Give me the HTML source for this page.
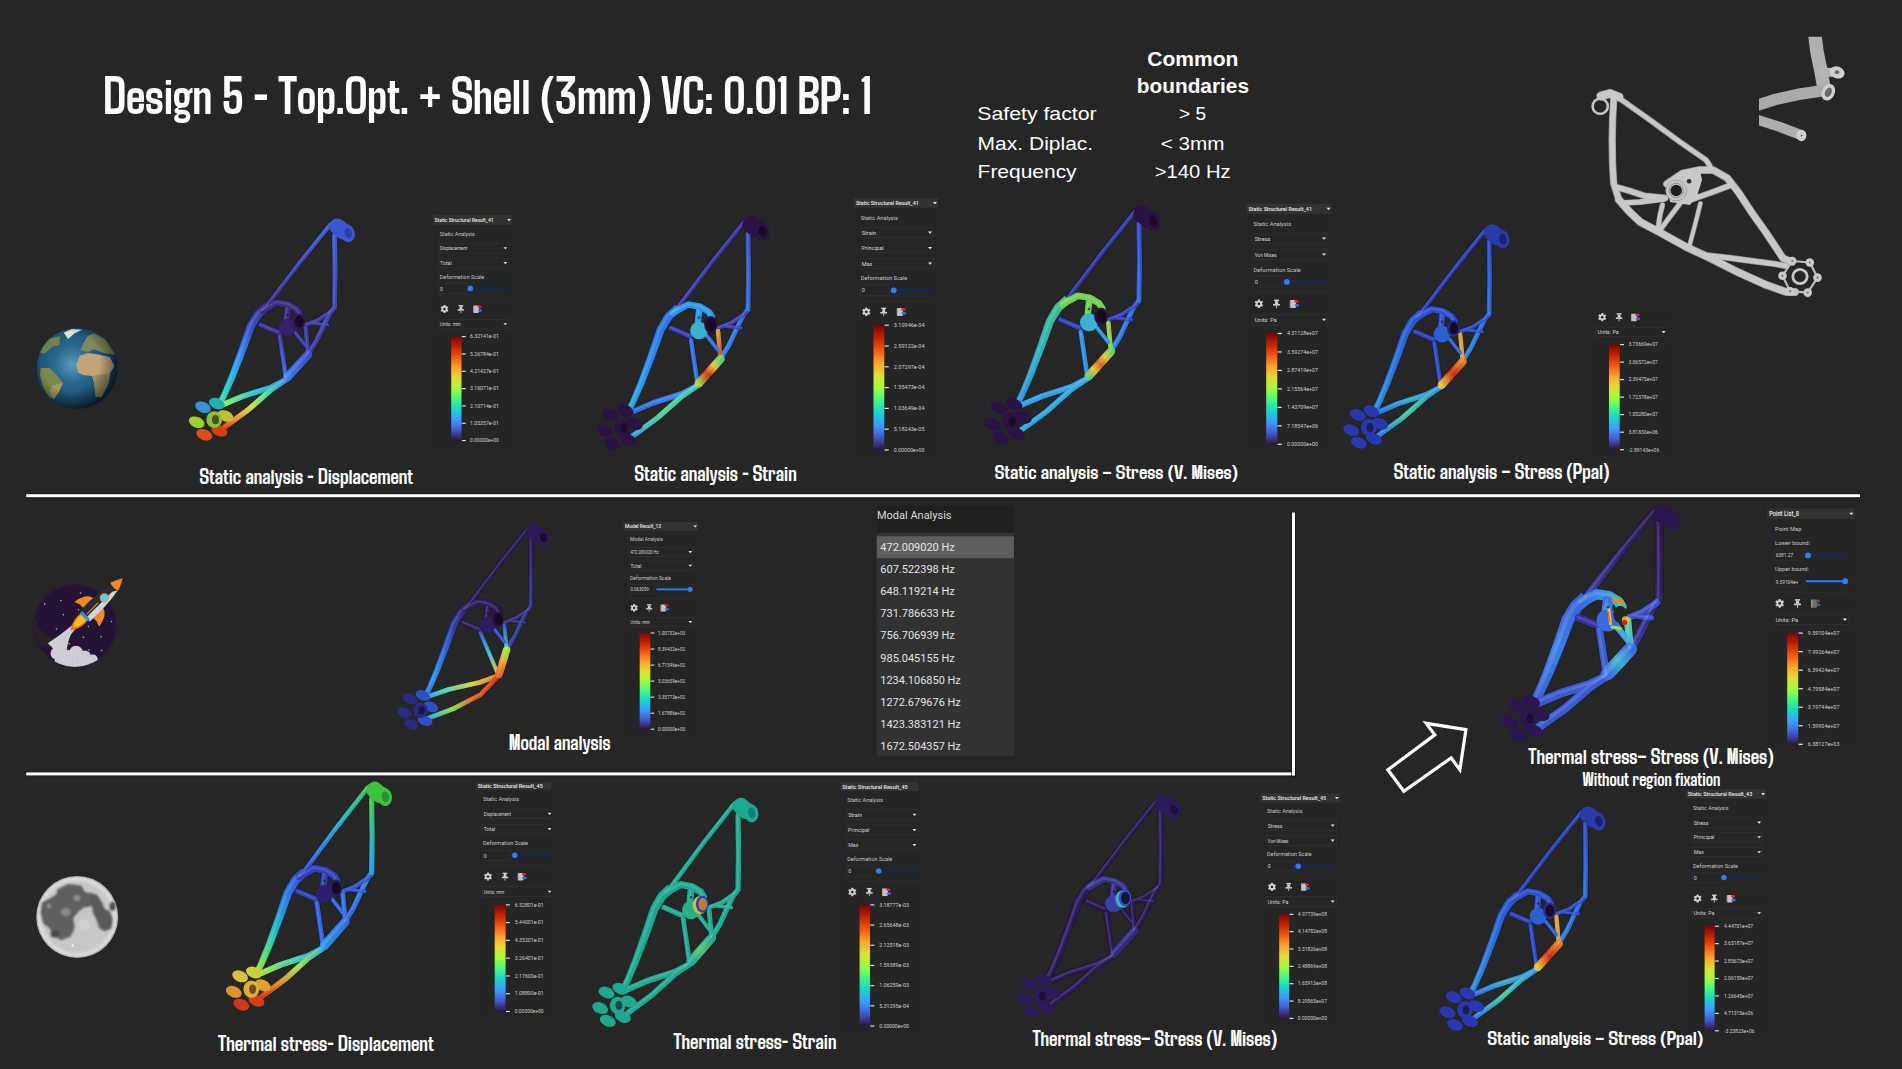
<!DOCTYPE html>
<html><head><meta charset="utf-8"><title>Design 5 - Top.Opt. + Shell</title>
<style>html,body{margin:0;padding:0;background:#262626;overflow:hidden}svg{display:block}</style></head>
<body><svg width="1902" height="1069" viewBox="0 0 1902 1069">
<defs><radialGradient id="ocean" cx="0.44" cy="0.45" r="0.62"><stop offset="0" stop-color="#5a9ab8"/><stop offset="0.35" stop-color="#2a6a90"/><stop offset="0.8" stop-color="#184a6c"/><stop offset="1" stop-color="#0c2436"/></radialGradient>
<radialGradient id="eshade" cx="0.42" cy="0.42" r="0.6"><stop offset="0.6" stop-color="#000" stop-opacity="0"/><stop offset="1" stop-color="#000" stop-opacity="0.55"/></radialGradient>
<clipPath id="eclip"><circle cx="77.1" cy="368.5" r="40.5"/></clipPath>
<filter id="eblur" x="-10%" y="-10%" width="120%" height="120%"><feGaussianBlur stdDeviation="0.55"/></filter>
<clipPath id="rclip"><circle cx="74.9" cy="625.8" r="41.2"/></clipPath>
<radialGradient id="moong" cx="0.5" cy="0.5" r="0.5"><stop offset="0" stop-color="#c6c6c6"/><stop offset="0.82" stop-color="#c8c8c8"/><stop offset="0.94" stop-color="#dcdcdc"/><stop offset="1" stop-color="#a8a8a8"/></radialGradient>
<clipPath id="mclip"><circle cx="77.2" cy="916.9" r="41"/></clipPath>
<filter id="mblur" x="-10%" y="-10%" width="120%" height="120%"><feGaussianBlur stdDeviation="1.1"/></filter>
<linearGradient id="gm" x1="0" y1="0" x2="1" y2="1"><stop offset="0" stop-color="#d2d2d2"/><stop offset="1" stop-color="#b4b4b4"/></linearGradient>
<clipPath id="gclip"><rect x="1759" y="36.7" width="100" height="120"/></clipPath>
<linearGradient id="g1" gradientUnits="userSpaceOnUse" x1="744" y1="222" x2="678" y2="307"><stop offset="0" stop-color="#3a5ad2"/><stop offset="1" stop-color="#3b2f8c"/></linearGradient>
<linearGradient id="g2" gradientUnits="userSpaceOnUse" x1="748" y1="234" x2="721" y2="358"><stop offset="0" stop-color="#3a5ad2"/><stop offset="0.5" stop-color="#3c48b8"/><stop offset="1" stop-color="#3b3a9c"/></linearGradient>
<linearGradient id="g3" gradientUnits="userSpaceOnUse" x1="678" y1="308" x2="627" y2="414"><stop offset="0" stop-color="#3b3090"/><stop offset="0.3" stop-color="#3a5ad8"/><stop offset="0.6" stop-color="#2a9ef0"/><stop offset="0.85" stop-color="#22d0c0"/><stop offset="1" stop-color="#50e890"/></linearGradient>
<linearGradient id="g4" gradientUnits="userSpaceOnUse" x1="691" y1="340" x2="697.4" y2="383.3"><stop offset="0" stop-color="#3b3a9c"/><stop offset="1" stop-color="#3a60d8"/></linearGradient>
<linearGradient id="g5" gradientUnits="userSpaceOnUse" x1="698.7" y1="385" x2="633" y2="411.5"><stop offset="0" stop-color="#3a7ae8"/><stop offset="0.5" stop-color="#22c0d8"/><stop offset="1" stop-color="#80f060"/></linearGradient>
<linearGradient id="g6" gradientUnits="userSpaceOnUse" x1="697" y1="386" x2="632" y2="436.5"><stop offset="0" stop-color="#3a8ae8"/><stop offset="0.3" stop-color="#40e0a0"/><stop offset="0.55" stop-color="#c8e040"/><stop offset="0.8" stop-color="#f08a28"/><stop offset="1" stop-color="#d83a10"/></linearGradient>
<linearGradient id="g7" gradientUnits="userSpaceOnUse" x1="720.5" y1="359" x2="698.7" y2="383.3"><stop offset="0" stop-color="#3a50c8"/><stop offset="1" stop-color="#3a7ae8"/></linearGradient>
<linearGradient id="g8" gradientUnits="userSpaceOnUse" x1="744" y1="222" x2="678" y2="307"><stop offset="0" stop-color="#3535a0"/><stop offset="1" stop-color="#3a3aa8"/></linearGradient>
<linearGradient id="g9" gradientUnits="userSpaceOnUse" x1="748" y1="234" x2="721" y2="358"><stop offset="0" stop-color="#3550c8"/><stop offset="1" stop-color="#2a80e8"/></linearGradient>
<linearGradient id="g10" gradientUnits="userSpaceOnUse" x1="678" y1="308" x2="627" y2="414"><stop offset="0" stop-color="#2f6ee0"/><stop offset="0.5" stop-color="#2a88e8"/><stop offset="1" stop-color="#30a8e0"/></linearGradient>
<linearGradient id="g11" gradientUnits="userSpaceOnUse" x1="718" y1="331" x2="720.5" y2="359"><stop offset="0" stop-color="#e0a030"/><stop offset="1" stop-color="#d04018"/></linearGradient>
<linearGradient id="g12" gradientUnits="userSpaceOnUse" x1="698.7" y1="385" x2="633" y2="411.5"><stop offset="0" stop-color="#3a8ae8"/><stop offset="1" stop-color="#2a70e0"/></linearGradient>
<linearGradient id="g13" gradientUnits="userSpaceOnUse" x1="697" y1="386" x2="632" y2="436.5"><stop offset="0" stop-color="#40c0c0"/><stop offset="0.5" stop-color="#50d090"/><stop offset="1" stop-color="#30a0e0"/></linearGradient>
<linearGradient id="g14" gradientUnits="userSpaceOnUse" x1="720.5" y1="359" x2="698.7" y2="383.3"><stop offset="0" stop-color="#50d080"/><stop offset="0.3" stop-color="#e0c030"/><stop offset="0.6" stop-color="#d03010"/><stop offset="1" stop-color="#a0d040"/></linearGradient>
<linearGradient id="g15" gradientUnits="userSpaceOnUse" x1="748" y1="234" x2="721" y2="358"><stop offset="0" stop-color="#3448c0"/><stop offset="1" stop-color="#2a80e8"/></linearGradient>
<linearGradient id="g16" gradientUnits="userSpaceOnUse" x1="678" y1="308" x2="627" y2="414"><stop offset="0" stop-color="#40c080"/><stop offset="0.5" stop-color="#30b0c0"/><stop offset="1" stop-color="#2a90e0"/></linearGradient>
<linearGradient id="g17" gradientUnits="userSpaceOnUse" x1="720.5" y1="359" x2="698.7" y2="383.3"><stop offset="0" stop-color="#60d060"/><stop offset="0.25" stop-color="#e0c030"/><stop offset="0.5" stop-color="#d86020"/><stop offset="0.75" stop-color="#e0c030"/><stop offset="1" stop-color="#60c080"/></linearGradient>
<linearGradient id="g18" gradientUnits="userSpaceOnUse" x1="748" y1="234" x2="721" y2="358"><stop offset="0" stop-color="#2a48c8"/><stop offset="1" stop-color="#2a80e0"/></linearGradient>
<linearGradient id="g19" gradientUnits="userSpaceOnUse" x1="678" y1="308" x2="627" y2="414"><stop offset="0" stop-color="#2a50d0"/><stop offset="1" stop-color="#2a90e0"/></linearGradient>
<linearGradient id="g20" gradientUnits="userSpaceOnUse" x1="698.7" y1="385" x2="633" y2="411.5"><stop offset="0" stop-color="#2a80e0"/><stop offset="0.5" stop-color="#30a8d0"/><stop offset="1" stop-color="#2a70e0"/></linearGradient>
<linearGradient id="g21" gradientUnits="userSpaceOnUse" x1="697" y1="386" x2="632" y2="436.5"><stop offset="0" stop-color="#2a90e0"/><stop offset="0.5" stop-color="#40c8a0"/><stop offset="1" stop-color="#2a78e0"/></linearGradient>
<linearGradient id="g22" gradientUnits="userSpaceOnUse" x1="720.5" y1="359" x2="698.7" y2="383.3"><stop offset="0" stop-color="#e08020"/><stop offset="0.5" stop-color="#d02810"/><stop offset="1" stop-color="#e0c030"/></linearGradient>
<linearGradient id="g23" gradientUnits="userSpaceOnUse" x1="744" y1="222" x2="678" y2="307"><stop offset="0" stop-color="#2c1a58"/><stop offset="1" stop-color="#30206a"/></linearGradient>
<linearGradient id="g24" gradientUnits="userSpaceOnUse" x1="748" y1="234" x2="721" y2="358"><stop offset="0" stop-color="#2c1a58"/><stop offset="1" stop-color="#3040a0"/></linearGradient>
<linearGradient id="g25" gradientUnits="userSpaceOnUse" x1="678" y1="308" x2="627" y2="414"><stop offset="0" stop-color="#30206a"/><stop offset="0.4" stop-color="#3050c8"/><stop offset="0.8" stop-color="#2a90e8"/><stop offset="1" stop-color="#3070e0"/></linearGradient>
<linearGradient id="g26" gradientUnits="userSpaceOnUse" x1="691" y1="340" x2="711" y2="387"><stop offset="0" stop-color="#3050c8"/><stop offset="0.5" stop-color="#30c0d0"/><stop offset="1" stop-color="#f0c030"/></linearGradient>
<linearGradient id="g27" gradientUnits="userSpaceOnUse" x1="718" y1="331" x2="720.5" y2="359"><stop offset="0" stop-color="#3050c8"/><stop offset="1" stop-color="#40c0c0"/></linearGradient>
<linearGradient id="g28" gradientUnits="userSpaceOnUse" x1="712" y1="388" x2="633" y2="411.5"><stop offset="0" stop-color="#e07020"/><stop offset="0.4" stop-color="#d0d040"/><stop offset="0.8" stop-color="#40d0b0"/><stop offset="1" stop-color="#30a0e0"/></linearGradient>
<linearGradient id="g29" gradientUnits="userSpaceOnUse" x1="710" y1="390" x2="632" y2="436.5"><stop offset="0" stop-color="#d03010"/><stop offset="0.4" stop-color="#e06020"/><stop offset="0.7" stop-color="#80e050"/><stop offset="1" stop-color="#30a0e0"/></linearGradient>
<linearGradient id="g30" gradientUnits="userSpaceOnUse" x1="720.5" y1="359" x2="712" y2="387"><stop offset="0" stop-color="#a0e040"/><stop offset="0.5" stop-color="#f0a030"/><stop offset="1" stop-color="#e06020"/></linearGradient>
<linearGradient id="g31" gradientUnits="userSpaceOnUse" x1="744" y1="222" x2="678" y2="307"><stop offset="0" stop-color="#2c1650"/><stop offset="0.5" stop-color="#30246e"/><stop offset="1" stop-color="#3a3aa8"/></linearGradient>
<linearGradient id="g32" gradientUnits="userSpaceOnUse" x1="748" y1="234" x2="721" y2="358"><stop offset="0" stop-color="#2c1650"/><stop offset="0.5" stop-color="#2e1e60"/><stop offset="1" stop-color="#3a3aa8"/></linearGradient>
<linearGradient id="g33" gradientUnits="userSpaceOnUse" x1="678" y1="308" x2="627" y2="414"><stop offset="0" stop-color="#3a60d8"/><stop offset="0.5" stop-color="#3a80e8"/><stop offset="1" stop-color="#3a5ad0"/></linearGradient>
<linearGradient id="g34" gradientUnits="userSpaceOnUse" x1="718" y1="331" x2="720.5" y2="359"><stop offset="0" stop-color="#60d0a0"/><stop offset="1" stop-color="#30c0d0"/></linearGradient>
<linearGradient id="g35" gradientUnits="userSpaceOnUse" x1="720.5" y1="359" x2="698.7" y2="383.3"><stop offset="0" stop-color="#3a70e0"/><stop offset="0.5" stop-color="#40b0d0"/><stop offset="1" stop-color="#3a70e0"/></linearGradient>
<linearGradient id="g36" gradientUnits="userSpaceOnUse" x1="673" y1="313" x2="712" y2="317"><stop offset="0" stop-color="#3a6ae0"/><stop offset="0.5" stop-color="#3a8ef0"/><stop offset="1" stop-color="#40c0a0"/></linearGradient>
<linearGradient id="g37" gradientUnits="userSpaceOnUse" x1="699" y1="311" x2="697" y2="331"><stop offset="0" stop-color="#3a6ae0"/><stop offset="0.5" stop-color="#3a8ef0"/><stop offset="1" stop-color="#40c0a0"/></linearGradient>
<linearGradient id="g38" gradientUnits="userSpaceOnUse" x1="744" y1="222" x2="678" y2="307"><stop offset="0" stop-color="#40c050"/><stop offset="0.4" stop-color="#20b0c8"/><stop offset="0.8" stop-color="#2a70e0"/><stop offset="1" stop-color="#3050d0"/></linearGradient>
<linearGradient id="g39" gradientUnits="userSpaceOnUse" x1="748" y1="234" x2="721" y2="358"><stop offset="0" stop-color="#40c050"/><stop offset="0.5" stop-color="#20a0e0"/><stop offset="1" stop-color="#3060e0"/></linearGradient>
<linearGradient id="g40" gradientUnits="userSpaceOnUse" x1="678" y1="308" x2="627" y2="414"><stop offset="0" stop-color="#3050d0"/><stop offset="0.3" stop-color="#2a80e8"/><stop offset="0.6" stop-color="#20c0c0"/><stop offset="0.85" stop-color="#60e060"/><stop offset="1" stop-color="#c0d040"/></linearGradient>
<linearGradient id="g41" gradientUnits="userSpaceOnUse" x1="698.7" y1="385" x2="633" y2="411.5"><stop offset="0" stop-color="#2a90e0"/><stop offset="0.5" stop-color="#40d0b0"/><stop offset="1" stop-color="#a0e040"/></linearGradient>
<linearGradient id="g42" gradientUnits="userSpaceOnUse" x1="697" y1="386" x2="632" y2="436.5"><stop offset="0" stop-color="#2ab0d0"/><stop offset="0.4" stop-color="#a0e040"/><stop offset="0.7" stop-color="#e08020"/><stop offset="1" stop-color="#c83010"/></linearGradient>
<linearGradient id="g43" gradientUnits="userSpaceOnUse" x1="720.5" y1="359" x2="698.7" y2="383.3"><stop offset="0" stop-color="#3070e0"/><stop offset="1" stop-color="#2a90e0"/></linearGradient>
<linearGradient id="g44" gradientUnits="userSpaceOnUse" x1="720.5" y1="359" x2="698.7" y2="383.3"><stop offset="0" stop-color="#1fa890"/><stop offset="0.5" stop-color="#50c070"/><stop offset="1" stop-color="#1fa890"/></linearGradient>
<linearGradient id="g45" gradientUnits="userSpaceOnUse" x1="748" y1="234" x2="721" y2="358"><stop offset="0" stop-color="#2a48c8"/><stop offset="1" stop-color="#2a80e0"/></linearGradient>
<linearGradient id="g46" gradientUnits="userSpaceOnUse" x1="678" y1="308" x2="627" y2="414"><stop offset="0" stop-color="#2a50d0"/><stop offset="1" stop-color="#2a90e0"/></linearGradient>
<linearGradient id="g47" gradientUnits="userSpaceOnUse" x1="698.7" y1="385" x2="633" y2="411.5"><stop offset="0" stop-color="#2a80e0"/><stop offset="0.5" stop-color="#30a8d0"/><stop offset="1" stop-color="#2a70e0"/></linearGradient>
<linearGradient id="g48" gradientUnits="userSpaceOnUse" x1="697" y1="386" x2="632" y2="436.5"><stop offset="0" stop-color="#2a90e0"/><stop offset="0.5" stop-color="#40c8a0"/><stop offset="1" stop-color="#2a78e0"/></linearGradient>
<linearGradient id="g49" gradientUnits="userSpaceOnUse" x1="720.5" y1="359" x2="698.7" y2="383.3"><stop offset="0" stop-color="#e08020"/><stop offset="0.5" stop-color="#d02810"/><stop offset="1" stop-color="#e0c030"/></linearGradient></defs>
<rect width="1902" height="1069" fill="#262626"/>
<text x="103.5" y="114" font-family="'Agdasima','Liberation Sans Narrow','Liberation Sans',sans-serif" font-weight="700" font-size="52.86" fill="#fff" textLength="768" lengthAdjust="spacingAndGlyphs">Design 5 - Top.Opt. + Shell (3mm) VC: 0.01 BP: 1</text>
<text x="1147.3" y="65.8" font-family="'Liberation Sans','DejaVu Sans',sans-serif" font-size="19.5" font-weight="700" fill="#fff" textLength="91.1" lengthAdjust="spacingAndGlyphs">Common</text>
<text x="1136.8" y="92.8" font-family="'Liberation Sans','DejaVu Sans',sans-serif" font-size="19.5" font-weight="700" fill="#fff" textLength="112.2" lengthAdjust="spacingAndGlyphs">boundaries</text>
<text x="977.2" y="120.4" font-family="'Liberation Sans','DejaVu Sans',sans-serif" font-size="19" font-weight="400" fill="#fff" textLength="119.5" lengthAdjust="spacingAndGlyphs">Safety factor</text>
<text x="977.6" y="149.9" font-family="'Liberation Sans','DejaVu Sans',sans-serif" font-size="19" font-weight="400" fill="#fff" textLength="115.6" lengthAdjust="spacingAndGlyphs">Max. Diplac.</text>
<text x="977.6" y="178.4" font-family="'Liberation Sans','DejaVu Sans',sans-serif" font-size="19" font-weight="400" fill="#fff" textLength="99" lengthAdjust="spacingAndGlyphs">Frequency</text>
<text x="1179.1" y="120.4" font-family="'Liberation Sans','DejaVu Sans',sans-serif" font-size="19" font-weight="400" fill="#fff" textLength="27.1" lengthAdjust="spacingAndGlyphs">&gt; 5</text>
<text x="1160.7" y="149.9" font-family="'Liberation Sans','DejaVu Sans',sans-serif" font-size="19" font-weight="400" fill="#fff" textLength="63.9" lengthAdjust="spacingAndGlyphs">&lt; 3mm</text>
<text x="1154.8" y="178.4" font-family="'Liberation Sans','DejaVu Sans',sans-serif" font-size="19" font-weight="400" fill="#fff" textLength="75.8" lengthAdjust="spacingAndGlyphs">&gt;140 Hz</text>
<rect x="25.2" y="493.2" width="1835.8" height="5" fill="#141414" opacity="0.6"/><rect x="26.2" y="494.2" width="1833.8" height="3" fill="#ffffff"/>
<rect x="25.2" y="771.4" width="1270.8" height="5" fill="#141414" opacity="0.6"/><rect x="26.2" y="772.4" width="1268.8" height="3" fill="#ffffff"/>
<rect x="1291" y="511.5" width="5" height="266" fill="#141414" opacity="0.6"/><rect x="1292" y="512.5" width="3" height="263" fill="#fff"/>
<circle cx="77.1" cy="368.5" r="40.8" fill="#141414" opacity="0.5"/><circle cx="77.1" cy="368.5" r="40.5" fill="url(#ocean)"/><g clip-path="url(#eclip)"><g filter="url(#eblur)"><path d="M76.22 364.44 L79.78 355.56 L87.78 352.89 L99.33 354.67 L110 357.33 L114.44 366.22 L110 373.33 L108.22 384 L101.11 397.33 L95.78 396.44 L94 382.22 L92.22 376 L83.33 375.11 L78 372.44Z" fill="#c2a47a"/><path d="M92.22 376 L108.22 373.33 L108.22 384 L101.11 397.33 L95.78 396.44 L94 382.22Z" fill="#9a9060"/><path d="M80.67 350.22 L83.33 343.11 L87.78 336 L94 333.33 L105.56 339.56 L115.33 354.67 L103.78 352.89 L94 349.33 L87.78 352Z" fill="#7e8a58"/><path d="M40.67 368 L49.56 368 L56.67 375.11 L62.89 383.11 L59.33 391.11 L54 399.11 L49.56 397.33 L43.33 387.56 L39.78 375.11Z" fill="#7a8a4c"/><path d="M52.22 385.78 L62.89 383.11 L59.33 391.11 L54 399.11 L49.56 391.11Z" fill="#a89868"/><path d="M38.89 352 L46 339.56 L60.22 336 L59.33 344.89 L52.22 346.67 L44.22 353.78Z" fill="#6e8248"/><path d="M63.78 332.44 L71.78 328.89 L82.44 329.78 L74.44 333.33 L68.22 339.11 L66 336Z" fill="#e2e2e2"/></g><circle cx="77.1" cy="368.5" r="40.5" fill="url(#eshade)"/></g>
<circle cx="74.9" cy="625.8" r="41.8" fill="#231336"/><circle cx="74.9" cy="625.8" r="41.2" fill="#241334"/><g clip-path="url(#rclip)"><path d="M40.72 602.42 C30.89 611.26 35.81 632.87 52.5 637.78 S30.89 658.41 30.89 628.94 Z" fill="#262428"/></g><circle cx="74.9" cy="625.8" r="41.2" fill="none" stroke="#2e1a44" stroke-width="0.8"/><circle cx="44.65" cy="603.89" r="0.8" fill="#b8b0c8"/><circle cx="60.85" cy="600.45" r="0.8" fill="#b8b0c8"/><circle cx="80.5" cy="593.08" r="0.8" fill="#b8b0c8"/><circle cx="63.31" cy="614.7" r="0.8" fill="#b8b0c8"/><circle cx="56.43" cy="628.94" r="0.8" fill="#b8b0c8"/><circle cx="78.54" cy="609.78" r="0.8" fill="#b8b0c8"/><circle cx="88.36" cy="626.48" r="0.8" fill="#b8b0c8"/><circle cx="111.44" cy="621.57" r="0.8" fill="#b8b0c8"/><circle cx="101.13" cy="636.8" r="0.8" fill="#b8b0c8"/><circle cx="83.45" cy="637.29" r="0.8" fill="#b8b0c8"/><circle cx="88.85" cy="650.06" r="0.8" fill="#b8b0c8"/><circle cx="101.62" cy="650.55" r="0.8" fill="#b8b0c8"/><circle cx="69.2" cy="643.67" r="0.8" fill="#b8b0c8"/><path d="M72.15 631.89 Q62.33 638.76 54.47 653.5 L66.26 654.48 Q67.24 640.73 72.15 631.89 Z" fill="#cfccd4"/><g clip-path="url(#rclip)" fill="#cfccd4"><circle cx="56.43" cy="653.5" r="5.89"/><circle cx="66.26" cy="656.44" r="6.88"/><circle cx="76.08" cy="652.51" r="6.88"/><circle cx="84.92" cy="656.44" r="5.89"/><circle cx="92.78" cy="659.39" r="4.91"/><circle cx="70.19" cy="662.34" r="7.86"/><circle cx="60.36" cy="661.36" r="5.89"/><circle cx="82.96" cy="663.32" r="6.88"/></g><g transform="translate(82.5 618.5) rotate(45)"><path d="M-2.5 12 Q-4 28 -7 42 L8 42 Q3 28 2.5 12 Z" fill="#cfccd4"/><path d="M-4.8 -3 Q-7 8 0 17 Q7 8 4.8 -3 Z" fill="#f06a18"/><path d="M-3.6 -3 Q-5 6 0 13 Q5 6 3.6 -3 Z" fill="#f8c020"/><path d="M-6.5 -22 Q-15 -21 -17.5 -6 L-12 -8 L-6.5 -8 Z" fill="#f08a20"/><path d="M6.5 -22 Q15 -21 17.5 -6 L12 -8 L6.5 -8 Z" fill="#f08a20"/><path d="M-7.2 -3 Q-9 -32 0 -57 Q9 -32 7.2 -3 Z" fill="#2b2a30"/><path d="M2 -3 L7.2 -3 Q8.6 -26 5 -45 L2 -40 Z" fill="#d4d2da"/><path d="M-5.6 -45 Q-3 -52 0 -57 Q3 -52 5.6 -45 Q0 -42.5 -5.6 -45 Z" fill="#f08a20"/><circle cx="1" cy="-30" r="4.2" fill="#5ad0e8" stroke="#e8a030" stroke-width="1"/><rect x="-5.6" y="-5" width="11.2" height="3.4" fill="#3a8ae0"/><rect x="-0.5" y="-22" width="1" height="16" fill="#e8a030"/></g>
<circle cx="77.2" cy="916.9" r="41" fill="url(#moong)"/><g clip-path="url(#mclip)"><g filter="url(#mblur)"><path d="M57.6 889.3 L68.1 884 L81.2 885.4 L85.1 891.9 L91.7 893.2 L96.9 899.8 L91.7 906.3 L83.8 907.6 L78.6 911.5 L73.3 918.1 L74.6 928.6 L70.7 936.4 L61.5 940.3 L52.4 935.1 L49.8 928.6 L43.2 923.3 L40.6 912.8 L41.9 902.4 L49.8 898.4 L56.3 894.5Z" fill="#5e5e5e"/><path d="M90.3 893.2 L96.9 894.5 L102.1 902.4 L104.7 908.9 L110 911.5 L112.6 919.4 L111.3 928.6 L104.7 931.2 L99.5 928.6 L96.9 920.7 L93 912.8 L91.7 905Z" fill="#5a5a5a"/><ellipse cx="112.6" cy="906.3" rx="3" ry="4.5" fill="#505050"/><ellipse cx="55" cy="934" rx="4.5" ry="3.5" fill="#4a4a4a"/><ellipse cx="66" cy="912" rx="5" ry="4" fill="#8a8a8a"/><ellipse cx="77" cy="898" rx="3.5" ry="3" fill="#8e8e8e"/><ellipse cx="49" cy="906" rx="2" ry="2" fill="#9a9a9a"/></g><circle cx="72.7" cy="945.6" r="1.3" fill="#f0f0f0"/><circle cx="84" cy="925" r="6" fill="#e0e0e0" opacity="0.35"/></g>
<path d="M1387.9 769.8 L1403.8 791.3 L1451.1 757.9 L1459.9 769.8 L1465.9 729.7 L1426.1 723.3 L1434.8 734.9Z" fill="none" stroke="#ffffff" stroke-width="3.2" stroke-linejoin="miter"/>
<g fill="none" stroke-linecap="round" stroke-linejoin="round"><g stroke-linecap="round" stroke-linejoin="round" fill="none"><path d="M1601 96 L1610 93.5 L1618.9 97" stroke="#8e8e8e" stroke-width="9.4"/><path d="M1613.7 99.5 L1612.6 120 L1612.2 140 L1612.6 165 L1613.7 183.3 L1618.9 199.8 L1629.4 211.7" stroke="#8e8e8e" stroke-width="7.4"/><path d="M1618.9 199.8 L1629.4 211.7 L1640 221.8 L1661 233 L1686.3 247 L1707.4 256.8 L1738.2 272.3 L1766.3 284.9 L1786 291.9 L1795 292" stroke="#8e8e8e" stroke-width="8.2"/><path d="M1618.9 98 L1650 120 L1680 142 L1706 160 L1710 166" stroke="#8e8e8e" stroke-width="5.9"/><path d="M1667 184 L1682.1 173.6 L1699 170 L1713 170 L1727 177.8 L1738.2 191.9 L1752.3 213.3 L1766.3 233 L1777.5 249.8 L1783 258.2 L1792 262" stroke="#8e8e8e" stroke-width="7.8"/><path d="M1688 200.7 L1710 193 L1732 184.7" stroke="#8e8e8e" stroke-width="6.4"/><path d="M1616 187 L1630 191 L1645 196 L1665.3 197.9" stroke="#8e8e8e" stroke-width="6.8"/><path d="M1622 203 L1640 202 L1664 199" stroke="#8e8e8e" stroke-width="6.2"/><path d="M1662.5 204.9 L1660 215 L1658.2 227.4" stroke="#8e8e8e" stroke-width="5.6"/><path d="M1682.1 200.7 L1672 214 L1661 228.8" stroke="#8e8e8e" stroke-width="5.6"/><path d="M1700.4 203.5 L1695 225 L1689.1 247" stroke="#8e8e8e" stroke-width="5"/><path d="M1707.4 255.4 L1730 258 L1752.3 261 L1774.7 263.9 L1786 266" stroke="#8e8e8e" stroke-width="6.4"/></g><path d="M1601 96 L1610 93.5 L1618.9 97" stroke="#c8c8c8" stroke-width="8"/><path d="M1613.7 99.5 L1612.6 120 L1612.2 140 L1612.6 165 L1613.7 183.3 L1618.9 199.8 L1629.4 211.7" stroke="#c8c8c8" stroke-width="6"/><path d="M1618.9 199.8 L1629.4 211.7 L1640 221.8 L1661 233 L1686.3 247 L1707.4 256.8 L1738.2 272.3 L1766.3 284.9 L1786 291.9 L1795 292" stroke="#c8c8c8" stroke-width="6.8"/><path d="M1618.9 98 L1650 120 L1680 142 L1706 160 L1710 166" stroke="#c8c8c8" stroke-width="4.5"/><path d="M1667 184 L1682.1 173.6 L1699 170 L1713 170 L1727 177.8 L1738.2 191.9 L1752.3 213.3 L1766.3 233 L1777.5 249.8 L1783 258.2 L1792 262" stroke="#c8c8c8" stroke-width="6.4"/><path d="M1688 200.7 L1710 193 L1732 184.7" stroke="#c8c8c8" stroke-width="5"/><path d="M1616 187 L1630 191 L1645 196 L1665.3 197.9" stroke="#c8c8c8" stroke-width="5.4"/><path d="M1622 203 L1640 202 L1664 199" stroke="#c8c8c8" stroke-width="4.8"/><path d="M1662.5 204.9 L1660 215 L1658.2 227.4" stroke="#c8c8c8" stroke-width="4.2"/><path d="M1682.1 200.7 L1672 214 L1661 228.8" stroke="#c8c8c8" stroke-width="4.2"/><path d="M1700.4 203.5 L1695 225 L1689.1 247" stroke="#c8c8c8" stroke-width="3.6"/><path d="M1707.4 255.4 L1730 258 L1752.3 261 L1774.7 263.9 L1786 266" stroke="#c8c8c8" stroke-width="5"/><path d="M1668 186 L1684 172 L1700 170 L1702 180 L1697 196 L1690 205 L1670 202Z" fill="#c8c8c8" stroke="none"/><circle cx="1689.1" cy="181.3" r="2.3" fill="#262626" stroke="none"/><circle cx="1676.2" cy="190.5" r="10.4" fill="#c8c8c8" stroke="#9a9a9a" stroke-width="0.8"/><circle cx="1676.2" cy="190.5" r="7.2" fill="none" stroke="#8a8a8a" stroke-width="1"/><circle cx="1676.2" cy="190.5" r="5.7" fill="#1e1e1e" stroke="none"/><circle cx="1600.2" cy="106.2" r="7.6" fill="none" stroke="#c6c6c6" stroke-width="2.6"/><circle cx="1800" cy="276.5" r="7.2" fill="none" stroke="#c8c8c8" stroke-width="2.8"/><path d="M1792.3 261 L1809.8 262.5" stroke="#bcbcbc" stroke-width="2.2"/><path d="M1809.8 262.5 L1817.5 277.6" stroke="#bcbcbc" stroke-width="2.2"/><path d="M1817.5 277.6 L1807.7 292.6" stroke="#bcbcbc" stroke-width="2.2"/><path d="M1807.7 292.6 L1790.2 291.2" stroke="#bcbcbc" stroke-width="2.2"/><path d="M1790.2 291.2 L1782.5 275.8" stroke="#bcbcbc" stroke-width="2.2"/><path d="M1782.5 275.8 L1792.3 261" stroke="#bcbcbc" stroke-width="2.2"/><circle cx="1792.3" cy="261" r="4.3" fill="#cacaca" stroke="none"/><circle cx="1792.3" cy="261" r="1.1" fill="#707070" stroke="none"/><circle cx="1809.8" cy="262.5" r="4.3" fill="#cacaca" stroke="none"/><circle cx="1809.8" cy="262.5" r="1.1" fill="#707070" stroke="none"/><circle cx="1817.5" cy="277.6" r="4.3" fill="#cacaca" stroke="none"/><circle cx="1817.5" cy="277.6" r="1.1" fill="#707070" stroke="none"/><circle cx="1807.7" cy="292.6" r="4.3" fill="#cacaca" stroke="none"/><circle cx="1807.7" cy="292.6" r="1.1" fill="#707070" stroke="none"/><circle cx="1790.2" cy="291.2" r="4.3" fill="#cacaca" stroke="none"/><circle cx="1790.2" cy="291.2" r="1.1" fill="#707070" stroke="none"/><circle cx="1782.5" cy="275.8" r="4.3" fill="#cacaca" stroke="none"/><circle cx="1782.5" cy="275.8" r="1.1" fill="#707070" stroke="none"/></g><g clip-path="url(#gclip)" fill="none" stroke-linecap="round" stroke-linejoin="round"><path d="M1814 28 L1817 52 L1820.5 68.8 L1824 88" stroke="#b0b0b0" stroke-width="13.5"/><path d="M1822 72 L1834 72.5" stroke="#b4b4b4" stroke-width="9"/><path d="M1821 91 L1798.5 94.3 L1775 99.5 L1752 107" stroke="#aaaaaa" stroke-width="11.5"/><path d="M1752 118 L1780 127 L1801 135" stroke="#adadad" stroke-width="10"/><ellipse cx="1837.1" cy="72.4" rx="7.6" ry="5.9" fill="#d0d0d0" stroke="none" transform="rotate(20 1837.1 72.4)"/><ellipse cx="1837" cy="72.2" rx="2.3" ry="1.9" fill="#6a6a6a" stroke="none"/><ellipse cx="1828.3" cy="92.3" rx="6.4" ry="8.6" fill="#d0d0d0" stroke="none" transform="rotate(25 1828.3 92.3)"/><ellipse cx="1828.3" cy="92.3" rx="3.2" ry="5" fill="#6a6a6a" stroke="none" transform="rotate(25 1828.3 92.3)"/><ellipse cx="1801.4" cy="135.5" rx="5" ry="5.8" fill="#cfcfcf" stroke="none"/><circle cx="1801.6" cy="135.6" r="0.9" fill="#555" stroke="none"/></g>
<rect x="876.8" y="505.7" width="137.1" height="27" fill="#202020"/><text x="877" y="518.5" font-family="'Roboto','Liberation Sans',sans-serif" font-size="11" fill="#dcdcdc" textLength="74.5" lengthAdjust="spacingAndGlyphs">Modal Analysis</text><rect x="876.8" y="533.2" width="137.1" height="1.4" fill="#3a3a3a"/><rect x="876.8" y="535" width="137.1" height="220.8" fill="#323232"/><rect x="876.8" y="536.3" width="137.1" height="21.9" fill="#5e5e5e"/><text x="880.3" y="551.2" font-family="'Roboto','Liberation Sans',sans-serif" font-size="11" fill="#e4e4e4" textLength="74.5" lengthAdjust="spacingAndGlyphs">472.009020 Hz</text><text x="880.3" y="573.27" font-family="'Roboto','Liberation Sans',sans-serif" font-size="11" fill="#e4e4e4" textLength="74.5" lengthAdjust="spacingAndGlyphs">607.522398 Hz</text><text x="880.3" y="595.34" font-family="'Roboto','Liberation Sans',sans-serif" font-size="11" fill="#e4e4e4" textLength="74.5" lengthAdjust="spacingAndGlyphs">648.119214 Hz</text><text x="880.3" y="617.41" font-family="'Roboto','Liberation Sans',sans-serif" font-size="11" fill="#e4e4e4" textLength="74.5" lengthAdjust="spacingAndGlyphs">731.786633 Hz</text><text x="880.3" y="639.48" font-family="'Roboto','Liberation Sans',sans-serif" font-size="11" fill="#e4e4e4" textLength="74.5" lengthAdjust="spacingAndGlyphs">756.706939 Hz</text><text x="880.3" y="661.55" font-family="'Roboto','Liberation Sans',sans-serif" font-size="11" fill="#e4e4e4" textLength="74.5" lengthAdjust="spacingAndGlyphs">985.045155 Hz</text><text x="880.3" y="683.62" font-family="'Roboto','Liberation Sans',sans-serif" font-size="11" fill="#e4e4e4" textLength="80.5" lengthAdjust="spacingAndGlyphs">1234.106850 Hz</text><text x="880.3" y="705.69" font-family="'Roboto','Liberation Sans',sans-serif" font-size="11" fill="#e4e4e4" textLength="80.5" lengthAdjust="spacingAndGlyphs">1272.679676 Hz</text><text x="880.3" y="727.76" font-family="'Roboto','Liberation Sans',sans-serif" font-size="11" fill="#e4e4e4" textLength="80.5" lengthAdjust="spacingAndGlyphs">1423.383121 Hz</text><text x="880.3" y="749.83" font-family="'Roboto','Liberation Sans',sans-serif" font-size="11" fill="#e4e4e4" textLength="80.5" lengthAdjust="spacingAndGlyphs">1672.504357 Hz</text>
<g transform="translate(347 233.2) scale(0.96 0.95) translate(-761 -231.5)" stroke-linecap="round" stroke-linejoin="round" fill="none">
<g stroke="#0c0c14" stroke-opacity="0.45"><path d="M744 222 L712 262 L678 307" stroke-width="5.81"/><path d="M748 234 L748.5 272 L748 309.5 L743.5 315 L737 328 L729 345 L721 358" stroke-width="6.55"/><path d="M674.97 304.65 L665.21 313.78 L656.9 327.95 L647.95 354.51 L637.95 382.05 L630.36 400.4 L624.37 412.68 L629.63 415.32 L636.04 403 L644.25 384.55 L655.05 357.09 L664.5 331.25 L671.99 319.22 L681.03 311.35Z" fill="#0c0c14" stroke-width="1.3"/><path d="M671 328 L690 336" stroke-width="6.55"/><path d="M718 328 L731 323 L746 313" stroke-width="5.92"/><path d="M725.6 326.3 L741 328" stroke-width="4.87"/><path d="M691 340 L697.4 383.3" stroke-width="6.13"/><path d="M718 331 L720.5 359" stroke-width="6.13"/><path d="M707 336 L718 350" stroke-width="5.5"/><path d="M698.7 385 L681.7 393.8 L652.8 403 L633 411.5" stroke-width="7.29"/><path d="M697 386 L681.7 396.4 L658.1 417.4 L632 436.5" stroke-width="7.08"/><path d="M720.5 359 L698.7 383.3" stroke-width="10.33"/><path d="M673 313 L688 304.5 L700 306.5 L709 312 L712 317" stroke-width="8.23"/><path d="M699 311 L697 331" stroke-width="8.12"/></g>
<path d="M744 222 L712 262 L678 307" stroke="url(#g1)" stroke-width="4.51"/>
<path d="M748 234 L748.5 272 L748 309.5 L743.5 315 L737 328 L729 345 L721 358" stroke="url(#g2)" stroke-width="5.25"/>
<path d="M674.97 304.65 L665.21 313.78 L656.9 327.95 L647.95 354.51 L637.95 382.05 L630.36 400.4 L624.37 412.68 L629.63 415.32 L636.04 403 L644.25 384.55 L655.05 357.09 L664.5 331.25 L671.99 319.22 L681.03 311.35Z" fill="url(#g3)" stroke="url(#g3)" stroke-width="0.3"/>
<path d="M671 328 L690 336" stroke="#3b3090" stroke-width="5.25"/>
<path d="M718 328 L731 323 L746 313" stroke="#3b3a9c" stroke-width="4.62"/>
<path d="M725.6 326.3 L741 328" stroke="#3b3a9c" stroke-width="3.57"/>
<path d="M691 340 L697.4 383.3" stroke="url(#g4)" stroke-width="4.83"/>
<path d="M718 331 L720.5 359" stroke="#3b3a9c" stroke-width="4.83"/>
<path d="M707 336 L718 350" stroke="#3b3a9c" stroke-width="4.2"/>
<path d="M698.7 385 L681.7 393.8 L652.8 403 L633 411.5" stroke="url(#g5)" stroke-width="5.99"/>
<path d="M697 386 L681.7 396.4 L658.1 417.4 L632 436.5" stroke="url(#g6)" stroke-width="5.78"/>
<path d="M720.5 359 L698.7 383.3" stroke="url(#g7)" stroke-width="9.03"/>
<path d="M673 313 L688 304.5 L700 306.5 L709 312 L712 317" stroke="#3a2a84" stroke-width="6.93"/>
<path d="M699 311 L697 331" stroke="#3a2a84" stroke-width="6.83"/>
<g stroke="#ffffff" stroke-opacity="0.13"><path d="M743.53 221.53 L711.53 261.53 L677.53 306.53" stroke-width="1.58"/><path d="M747.45 233.45 L747.95 271.45 L747.45 308.95 L742.95 314.45 L736.45 327.45 L728.45 344.45 L720.45 357.45" stroke-width="1.84"/><path d="M677.22 307.22 L667.82 315.72 L659.92 328.82 L650.72 355.02 L640.32 382.52 L632.42 400.92 L626.22 413.22" stroke-width="2.61"/><path d="M670.45 327.45 L689.45 335.45" stroke-width="1.84"/><path d="M717.51 327.51 L730.51 322.51 L745.51 312.51" stroke-width="1.62"/><path d="M725.23 325.93 L740.63 327.63" stroke-width="1.25"/><path d="M690.49 339.49 L696.89 382.79" stroke-width="1.69"/><path d="M717.49 330.49 L719.99 358.49" stroke-width="1.69"/><path d="M706.56 335.56 L717.56 349.56" stroke-width="1.47"/><path d="M698.07 384.37 L681.07 393.17 L652.17 402.37 L632.37 410.87" stroke-width="2.09"/><path d="M696.39 385.39 L681.09 395.79 L657.49 416.79 L631.39 435.89" stroke-width="2.02"/><path d="M719.55 358.05 L697.75 382.35" stroke-width="3.16"/><path d="M672.27 312.27 L687.27 303.77 L699.27 305.77 L708.27 311.27 L711.27 316.27" stroke-width="2.43"/><path d="M698.28 310.28 L696.28 330.28" stroke-width="2.39"/></g>
<circle cx="699" cy="330.5" r="9.02" fill="#34206c"/>
<circle cx="699" cy="317.5" r="1.3" fill="#1a1a1a" opacity="0.7"/>
<ellipse cx="710.8" cy="324.6" rx="6.6" ry="8.6" fill="#2e1a60"/>
<ellipse cx="711.3" cy="324.6" rx="4.6" ry="6.4" fill="#150818" opacity="0.85"/>
<path d="M751 224.5 L757 229.5" stroke="#3a58d0" stroke-width="17"/>
<ellipse cx="761.5" cy="231.5" rx="7.6" ry="9.6" fill="#3a58d0" transform="rotate(-15 761.5 231.5)"/>
<ellipse cx="762.3" cy="231.5" rx="3.8" ry="5.6" fill="#2a3a9a" transform="rotate(-15 762.3 231.5)" opacity="0.75"/>
<ellipse cx="611" cy="414.7" rx="8.6" ry="5.6" fill="#3a90d0" transform="rotate(22 611 414.7)"/>
<ellipse cx="625.4" cy="410.8" rx="8.6" ry="5.6" fill="#20b0b0" transform="rotate(22 625.4 410.8)"/>
<ellipse cx="634.5" cy="423.9" rx="8.6" ry="5.6" fill="#c0c030" transform="rotate(22 634.5 423.9)"/>
<ellipse cx="604.4" cy="430.5" rx="8.6" ry="5.6" fill="#a0d030" transform="rotate(22 604.4 430.5)"/>
<ellipse cx="628" cy="439.6" rx="8.6" ry="5.6" fill="#d04010" transform="rotate(22 628 439.6)"/>
<ellipse cx="612.3" cy="443.6" rx="8.6" ry="5.6" fill="#d85018" transform="rotate(22 612.3 443.6)"/>
<ellipse cx="622.7" cy="427.8" rx="8.2" ry="8.8" fill="#90c038"/>
<ellipse cx="624" cy="427.8" rx="3.6" ry="4.8" fill="#150818" opacity="0.6"/>
</g>
<g transform="translate(761 231.5) scale(1 1) translate(-761 -231.5)" stroke-linecap="round" stroke-linejoin="round" fill="none">
<g stroke="#0c0c14" stroke-opacity="0.45"><path d="M744 222 L712 262 L678 307" stroke-width="5.6"/><path d="M748 234 L748.5 272 L748 309.5 L743.5 315 L737 328 L729 345 L721 358" stroke-width="6.3"/><path d="M675.12 304.81 L665.37 313.91 L657.08 328.03 L648.12 354.57 L638.1 382.11 L630.5 400.46 L624.5 412.74 L629.5 415.26 L635.9 402.94 L644.1 384.49 L654.88 357.03 L664.32 331.17 L671.83 319.09 L680.88 311.19Z" fill="#0c0c14" stroke-width="1.3"/><path d="M671 328 L690 336" stroke-width="6.3"/><path d="M718 328 L731 323 L746 313" stroke-width="5.7"/><path d="M725.6 326.3 L741 328" stroke-width="4.7"/><path d="M691 340 L697.4 383.3" stroke-width="5.9"/><path d="M718 331 L720.5 359" stroke-width="5.9"/><path d="M707 336 L718 350" stroke-width="5.3"/><path d="M698.7 385 L681.7 393.8 L652.8 403 L633 411.5" stroke-width="7"/><path d="M697 386 L681.7 396.4 L658.1 417.4 L632 436.5" stroke-width="6.8"/><path d="M720.5 359 L698.7 383.3" stroke-width="9.9"/><path d="M673 313 L688 304.5 L700 306.5 L709 312 L712 317" stroke-width="7.9"/><path d="M699 311 L697 331" stroke-width="7.8"/></g>
<path d="M744 222 L712 262 L678 307" stroke="url(#g8)" stroke-width="4.3"/>
<path d="M748 234 L748.5 272 L748 309.5 L743.5 315 L737 328 L729 345 L721 358" stroke="url(#g9)" stroke-width="5"/>
<path d="M675.12 304.81 L665.37 313.91 L657.08 328.03 L648.12 354.57 L638.1 382.11 L630.5 400.46 L624.5 412.74 L629.5 415.26 L635.9 402.94 L644.1 384.49 L654.88 357.03 L664.32 331.17 L671.83 319.09 L680.88 311.19Z" fill="url(#g10)" stroke="url(#g10)" stroke-width="0.3"/>
<path d="M671 328 L690 336" stroke="#3040b8" stroke-width="5"/>
<path d="M718 328 L731 323 L746 313" stroke="#3a40b0" stroke-width="4.4"/>
<path d="M725.6 326.3 L741 328" stroke="#3a40b0" stroke-width="3.4"/>
<path d="M691 340 L697.4 383.3" stroke="#2f70e0" stroke-width="4.6"/>
<path d="M718 331 L720.5 359" stroke="url(#g11)" stroke-width="4.6"/>
<path d="M707 336 L718 350" stroke="#2f70e0" stroke-width="4"/>
<path d="M698.7 385 L681.7 393.8 L652.8 403 L633 411.5" stroke="url(#g12)" stroke-width="5.7"/>
<path d="M697 386 L681.7 396.4 L658.1 417.4 L632 436.5" stroke="url(#g13)" stroke-width="5.5"/>
<path d="M720.5 359 L698.7 383.3" stroke="url(#g14)" stroke-width="8.6"/>
<path d="M673 313 L688 304.5 L700 306.5 L709 312 L712 317" stroke="#2a9ae8" stroke-width="6.6"/>
<path d="M699 311 L697 331" stroke="#2a9ae8" stroke-width="6.5"/>
<g stroke="#ffffff" stroke-opacity="0.13"><path d="M743.55 221.55 L711.55 261.55 L677.55 306.55" stroke-width="1.5"/><path d="M747.48 233.47 L747.98 271.48 L747.48 308.98 L742.98 314.48 L736.48 327.48 L728.48 344.48 L720.48 357.48" stroke-width="1.75"/><path d="M677.25 307.25 L667.85 315.75 L659.95 328.85 L650.75 355.05 L640.35 382.55 L632.45 400.95 L626.25 413.25" stroke-width="2.48"/><path d="M670.48 327.48 L689.48 335.48" stroke-width="1.75"/><path d="M717.54 327.54 L730.54 322.54 L745.54 312.54" stroke-width="1.54"/><path d="M725.24 325.94 L740.64 327.64" stroke-width="1.19"/><path d="M690.52 339.52 L696.92 382.82" stroke-width="1.61"/><path d="M717.52 330.52 L720.02 358.52" stroke-width="1.61"/><path d="M706.58 335.58 L717.58 349.58" stroke-width="1.4"/><path d="M698.1 384.4 L681.1 393.2 L652.2 402.4 L632.4 410.9" stroke-width="1.99"/><path d="M696.42 385.42 L681.12 395.82 L657.52 416.82 L631.42 435.92" stroke-width="1.92"/><path d="M719.6 358.1 L697.8 382.4" stroke-width="3.01"/><path d="M672.31 312.31 L687.31 303.81 L699.31 305.81 L708.31 311.31 L711.31 316.31" stroke-width="2.31"/><path d="M698.32 310.32 L696.32 330.32" stroke-width="2.27"/></g>
<circle cx="699" cy="330.5" r="8.8" fill="#38b0d0"/>
<circle cx="699" cy="317.5" r="1.3" fill="#1a1a1a" opacity="0.7"/>
<ellipse cx="710.8" cy="324.6" rx="6.6" ry="8.6" fill="#2a1040"/>
<ellipse cx="711.3" cy="324.6" rx="4.6" ry="6.4" fill="#150818" opacity="0.85"/>
<path d="M751 224.5 L757 229.5" stroke="#2a1244" stroke-width="17"/>
<ellipse cx="761.5" cy="231.5" rx="7.6" ry="9.6" fill="#2a1244" transform="rotate(-15 761.5 231.5)"/>
<ellipse cx="762.3" cy="231.5" rx="3.8" ry="5.6" fill="#150818" transform="rotate(-15 762.3 231.5)" opacity="0.75"/>
<ellipse cx="611" cy="414.7" rx="8.6" ry="5.6" fill="#2a1244" transform="rotate(22 611 414.7)"/>
<ellipse cx="625.4" cy="410.8" rx="8.6" ry="5.6" fill="#2a1244" transform="rotate(22 625.4 410.8)"/>
<ellipse cx="634.5" cy="423.9" rx="8.6" ry="5.6" fill="#2a1244" transform="rotate(22 634.5 423.9)"/>
<ellipse cx="604.4" cy="430.5" rx="8.6" ry="5.6" fill="#2a1244" transform="rotate(22 604.4 430.5)"/>
<ellipse cx="628" cy="439.6" rx="8.6" ry="5.6" fill="#2a1244" transform="rotate(22 628 439.6)"/>
<ellipse cx="612.3" cy="443.6" rx="8.6" ry="5.6" fill="#2a1244" transform="rotate(22 612.3 443.6)"/>
<ellipse cx="622.7" cy="427.8" rx="8.2" ry="8.8" fill="#2a1244"/>
<ellipse cx="624" cy="427.8" rx="3.6" ry="4.8" fill="#150818" opacity="0.6"/>
</g>
<g transform="translate(1152.2 221.3) scale(1.02 1.02) translate(-761 -231.5)" stroke-linecap="round" stroke-linejoin="round" fill="none">
<g stroke="#0c0c14" stroke-opacity="0.45"><path d="M744 222 L712 262 L678 307" stroke-width="5.6"/><path d="M748 234 L748.5 272 L748 309.5 L743.5 315 L737 328 L729 345 L721 358" stroke-width="6.3"/><path d="M675.12 304.81 L665.37 313.91 L657.08 328.03 L648.12 354.57 L638.1 382.11 L630.5 400.46 L624.5 412.74 L629.5 415.26 L635.9 402.94 L644.1 384.49 L654.88 357.03 L664.32 331.17 L671.83 319.09 L680.88 311.19Z" fill="#0c0c14" stroke-width="1.3"/><path d="M671 328 L690 336" stroke-width="6.3"/><path d="M718 328 L731 323 L746 313" stroke-width="5.7"/><path d="M725.6 326.3 L741 328" stroke-width="4.7"/><path d="M691 340 L697.4 383.3" stroke-width="5.9"/><path d="M718 331 L720.5 359" stroke-width="5.9"/><path d="M707 336 L718 350" stroke-width="5.3"/><path d="M698.7 385 L681.7 393.8 L652.8 403 L633 411.5" stroke-width="7"/><path d="M697 386 L681.7 396.4 L658.1 417.4 L632 436.5" stroke-width="6.8"/><path d="M720.5 359 L698.7 383.3" stroke-width="9.9"/><path d="M673 313 L688 304.5 L700 306.5 L709 312 L712 317" stroke-width="7.9"/><path d="M699 311 L697 331" stroke-width="7.8"/></g>
<path d="M744 222 L712 262 L678 307" stroke="#3535a0" stroke-width="4.3"/>
<path d="M748 234 L748.5 272 L748 309.5 L743.5 315 L737 328 L729 345 L721 358" stroke="url(#g15)" stroke-width="5"/>
<path d="M675.12 304.81 L665.37 313.91 L657.08 328.03 L648.12 354.57 L638.1 382.11 L630.5 400.46 L624.5 412.74 L629.5 415.26 L635.9 402.94 L644.1 384.49 L654.88 357.03 L664.32 331.17 L671.83 319.09 L680.88 311.19Z" fill="url(#g16)" stroke="url(#g16)" stroke-width="0.3"/>
<path d="M671 328 L690 336" stroke="#3040b8" stroke-width="5"/>
<path d="M718 328 L731 323 L746 313" stroke="#3040b8" stroke-width="4.4"/>
<path d="M725.6 326.3 L741 328" stroke="#3040b8" stroke-width="3.4"/>
<path d="M691 340 L697.4 383.3" stroke="#2a90e0" stroke-width="4.6"/>
<path d="M718 331 L720.5 359" stroke="#90d040" stroke-width="4.6"/>
<path d="M707 336 L718 350" stroke="#2a90e0" stroke-width="4"/>
<path d="M698.7 385 L681.7 393.8 L652.8 403 L633 411.5" stroke="#30a0e0" stroke-width="5.7"/>
<path d="M697 386 L681.7 396.4 L658.1 417.4 L632 436.5" stroke="#2aa8e0" stroke-width="5.5"/>
<path d="M720.5 359 L698.7 383.3" stroke="url(#g17)" stroke-width="8.6"/>
<path d="M673 313 L688 304.5 L700 306.5 L709 312 L712 317" stroke="#70d050" stroke-width="6.6"/>
<path d="M699 311 L697 331" stroke="#70d050" stroke-width="6.5"/>
<g stroke="#ffffff" stroke-opacity="0.13"><path d="M743.55 221.55 L711.55 261.55 L677.55 306.55" stroke-width="1.5"/><path d="M747.48 233.47 L747.98 271.48 L747.48 308.98 L742.98 314.48 L736.48 327.48 L728.48 344.48 L720.48 357.48" stroke-width="1.75"/><path d="M677.25 307.25 L667.85 315.75 L659.95 328.85 L650.75 355.05 L640.35 382.55 L632.45 400.95 L626.25 413.25" stroke-width="2.48"/><path d="M670.48 327.48 L689.48 335.48" stroke-width="1.75"/><path d="M717.54 327.54 L730.54 322.54 L745.54 312.54" stroke-width="1.54"/><path d="M725.24 325.94 L740.64 327.64" stroke-width="1.19"/><path d="M690.52 339.52 L696.92 382.82" stroke-width="1.61"/><path d="M717.52 330.52 L720.02 358.52" stroke-width="1.61"/><path d="M706.58 335.58 L717.58 349.58" stroke-width="1.4"/><path d="M698.1 384.4 L681.1 393.2 L652.2 402.4 L632.4 410.9" stroke-width="1.99"/><path d="M696.42 385.42 L681.12 395.82 L657.52 416.82 L631.42 435.92" stroke-width="1.92"/><path d="M719.6 358.1 L697.8 382.4" stroke-width="3.01"/><path d="M672.31 312.31 L687.31 303.81 L699.31 305.81 L708.31 311.31 L711.31 316.31" stroke-width="2.31"/><path d="M698.32 310.32 L696.32 330.32" stroke-width="2.27"/></g>
<circle cx="699" cy="330.5" r="8.8" fill="#40b0d0"/>
<circle cx="699" cy="317.5" r="1.3" fill="#1a1a1a" opacity="0.7"/>
<ellipse cx="710.8" cy="324.6" rx="6.6" ry="8.6" fill="#2a1040"/>
<ellipse cx="711.3" cy="324.6" rx="4.6" ry="6.4" fill="#150818" opacity="0.85"/>
<path d="M751 224.5 L757 229.5" stroke="#2a1244" stroke-width="17"/>
<ellipse cx="761.5" cy="231.5" rx="7.6" ry="9.6" fill="#2a1244" transform="rotate(-15 761.5 231.5)"/>
<ellipse cx="762.3" cy="231.5" rx="3.8" ry="5.6" fill="#150818" transform="rotate(-15 762.3 231.5)" opacity="0.75"/>
<ellipse cx="611" cy="414.7" rx="8.6" ry="5.6" fill="#2a1244" transform="rotate(22 611 414.7)"/>
<ellipse cx="625.4" cy="410.8" rx="8.6" ry="5.6" fill="#2a1244" transform="rotate(22 625.4 410.8)"/>
<ellipse cx="634.5" cy="423.9" rx="8.6" ry="5.6" fill="#2a1244" transform="rotate(22 634.5 423.9)"/>
<ellipse cx="604.4" cy="430.5" rx="8.6" ry="5.6" fill="#2a1244" transform="rotate(22 604.4 430.5)"/>
<ellipse cx="628" cy="439.6" rx="8.6" ry="5.6" fill="#2a1244" transform="rotate(22 628 439.6)"/>
<ellipse cx="612.3" cy="443.6" rx="8.6" ry="5.6" fill="#2a1244" transform="rotate(22 612.3 443.6)"/>
<ellipse cx="622.7" cy="427.8" rx="8.2" ry="8.8" fill="#2a1244"/>
<ellipse cx="624" cy="427.8" rx="3.6" ry="4.8" fill="#150818" opacity="0.6"/>
</g>
<g transform="translate(1501.6 239.1) scale(0.96 0.96) translate(-761 -231.5)" stroke-linecap="round" stroke-linejoin="round" fill="none">
<g stroke="#0c0c14" stroke-opacity="0.45"><path d="M744 222 L712 262 L678 307" stroke-width="5.6"/><path d="M748 234 L748.5 272 L748 309.5 L743.5 315 L737 328 L729 345 L721 358" stroke-width="6.3"/><path d="M675.12 304.81 L665.37 313.91 L657.08 328.03 L648.12 354.57 L638.1 382.11 L630.5 400.46 L624.5 412.74 L629.5 415.26 L635.9 402.94 L644.1 384.49 L654.88 357.03 L664.32 331.17 L671.83 319.09 L680.88 311.19Z" fill="#0c0c14" stroke-width="1.3"/><path d="M671 328 L690 336" stroke-width="6.3"/><path d="M718 328 L731 323 L746 313" stroke-width="5.7"/><path d="M725.6 326.3 L741 328" stroke-width="4.7"/><path d="M691 340 L697.4 383.3" stroke-width="5.9"/><path d="M718 331 L720.5 359" stroke-width="5.9"/><path d="M707 336 L718 350" stroke-width="5.3"/><path d="M698.7 385 L681.7 393.8 L652.8 403 L633 411.5" stroke-width="7"/><path d="M697 386 L681.7 396.4 L658.1 417.4 L632 436.5" stroke-width="6.8"/><path d="M720.5 359 L698.7 383.3" stroke-width="9.9"/><path d="M673 313 L688 304.5 L700 306.5 L709 312 L712 317" stroke-width="7.9"/><path d="M699 311 L697 331" stroke-width="7.8"/></g>
<path d="M744 222 L712 262 L678 307" stroke="#2a40b8" stroke-width="4.3"/>
<path d="M748 234 L748.5 272 L748 309.5 L743.5 315 L737 328 L729 345 L721 358" stroke="url(#g18)" stroke-width="5"/>
<path d="M675.12 304.81 L665.37 313.91 L657.08 328.03 L648.12 354.57 L638.1 382.11 L630.5 400.46 L624.5 412.74 L629.5 415.26 L635.9 402.94 L644.1 384.49 L654.88 357.03 L664.32 331.17 L671.83 319.09 L680.88 311.19Z" fill="url(#g19)" stroke="url(#g19)" stroke-width="0.3"/>
<path d="M671 328 L690 336" stroke="#2a40b8" stroke-width="5"/>
<path d="M718 328 L731 323 L746 313" stroke="#2a48c8" stroke-width="4.4"/>
<path d="M725.6 326.3 L741 328" stroke="#2a48c8" stroke-width="3.4"/>
<path d="M691 340 L697.4 383.3" stroke="#2a48c8" stroke-width="4.6"/>
<path d="M718 331 L720.5 359" stroke="#e0a030" stroke-width="4.6"/>
<path d="M707 336 L718 350" stroke="#2a60d0" stroke-width="4"/>
<path d="M698.7 385 L681.7 393.8 L652.8 403 L633 411.5" stroke="url(#g20)" stroke-width="5.7"/>
<path d="M697 386 L681.7 396.4 L658.1 417.4 L632 436.5" stroke="url(#g21)" stroke-width="5.5"/>
<path d="M720.5 359 L698.7 383.3" stroke="url(#g22)" stroke-width="8.6"/>
<path d="M673 313 L688 304.5 L700 306.5 L709 312 L712 317" stroke="#2a50cc" stroke-width="6.6"/>
<path d="M699 311 L697 331" stroke="#2a50cc" stroke-width="6.5"/>
<g stroke="#ffffff" stroke-opacity="0.13"><path d="M743.55 221.55 L711.55 261.55 L677.55 306.55" stroke-width="1.5"/><path d="M747.48 233.47 L747.98 271.48 L747.48 308.98 L742.98 314.48 L736.48 327.48 L728.48 344.48 L720.48 357.48" stroke-width="1.75"/><path d="M677.25 307.25 L667.85 315.75 L659.95 328.85 L650.75 355.05 L640.35 382.55 L632.45 400.95 L626.25 413.25" stroke-width="2.48"/><path d="M670.48 327.48 L689.48 335.48" stroke-width="1.75"/><path d="M717.54 327.54 L730.54 322.54 L745.54 312.54" stroke-width="1.54"/><path d="M725.24 325.94 L740.64 327.64" stroke-width="1.19"/><path d="M690.52 339.52 L696.92 382.82" stroke-width="1.61"/><path d="M717.52 330.52 L720.02 358.52" stroke-width="1.61"/><path d="M706.58 335.58 L717.58 349.58" stroke-width="1.4"/><path d="M698.1 384.4 L681.1 393.2 L652.2 402.4 L632.4 410.9" stroke-width="1.99"/><path d="M696.42 385.42 L681.12 395.82 L657.52 416.82 L631.42 435.92" stroke-width="1.92"/><path d="M719.6 358.1 L697.8 382.4" stroke-width="3.01"/><path d="M672.31 312.31 L687.31 303.81 L699.31 305.81 L708.31 311.31 L711.31 316.31" stroke-width="2.31"/><path d="M698.32 310.32 L696.32 330.32" stroke-width="2.27"/></g>
<circle cx="699" cy="330.5" r="8.8" fill="#2a60d0"/>
<circle cx="699" cy="317.5" r="1.3" fill="#1a1a1a" opacity="0.7"/>
<ellipse cx="710.8" cy="324.6" rx="6.6" ry="8.6" fill="#2a2a90"/>
<ellipse cx="711.3" cy="324.6" rx="4.6" ry="6.4" fill="#150818" opacity="0.85"/>
<path d="M751 224.5 L757 229.5" stroke="#2a3aa8" stroke-width="17"/>
<ellipse cx="761.5" cy="231.5" rx="7.6" ry="9.6" fill="#2a3aa8" transform="rotate(-15 761.5 231.5)"/>
<ellipse cx="762.3" cy="231.5" rx="3.8" ry="5.6" fill="#1a1a60" transform="rotate(-15 762.3 231.5)" opacity="0.75"/>
<ellipse cx="611" cy="414.7" rx="8.6" ry="5.6" fill="#2a38b0" transform="rotate(22 611 414.7)"/>
<ellipse cx="625.4" cy="410.8" rx="8.6" ry="5.6" fill="#2a38b0" transform="rotate(22 625.4 410.8)"/>
<ellipse cx="634.5" cy="423.9" rx="8.6" ry="5.6" fill="#2a38b0" transform="rotate(22 634.5 423.9)"/>
<ellipse cx="604.4" cy="430.5" rx="8.6" ry="5.6" fill="#2a38b0" transform="rotate(22 604.4 430.5)"/>
<ellipse cx="628" cy="439.6" rx="8.6" ry="5.6" fill="#2a38b0" transform="rotate(22 628 439.6)"/>
<ellipse cx="612.3" cy="443.6" rx="8.6" ry="5.6" fill="#2a38b0" transform="rotate(22 612.3 443.6)"/>
<ellipse cx="622.7" cy="427.8" rx="8.2" ry="8.8" fill="#2a38b0"/>
<ellipse cx="624" cy="427.8" rx="3.6" ry="4.8" fill="#150818" opacity="0.6"/>
</g>
<g transform="translate(542.2 537.6) scale(0.88 0.88) translate(-761 -231.5)" stroke-linecap="round" stroke-linejoin="round" fill="none">
<g stroke="#0c0c14" stroke-opacity="0.45"><path d="M744 222 L712 262 L678 307" stroke-width="5.6"/><path d="M748 234 L748.5 272 L748 309.5 L743.5 315 L737 328 L729 345 L721 358" stroke-width="6.3"/><path d="M675.12 304.81 L665.37 313.91 L657.08 328.03 L648.12 354.57 L638.1 382.11 L630.5 400.46 L624.5 412.74 L629.5 415.26 L635.9 402.94 L644.1 384.49 L654.88 357.03 L664.32 331.17 L671.83 319.09 L680.88 311.19Z" fill="#0c0c14" stroke-width="1.3"/><path d="M671 328 L690 336" stroke-width="6.3"/><path d="M718 328 L731 323 L746 313" stroke-width="5.7"/><path d="M725.6 326.3 L741 328" stroke-width="4.7"/><path d="M691 340 L711 387" stroke-width="5.9"/><path d="M718 331 L720.5 359" stroke-width="5.9"/><path d="M707 336 L718 350" stroke-width="5.3"/><path d="M712 388 L690 396 L655 404 L633 411.5" stroke-width="7"/><path d="M710 390 L691 410 L660 426 L632 436.5" stroke-width="6.8"/><path d="M720.5 359 L712 387" stroke-width="9.9"/><path d="M673 313 L688 304.5 L700 306.5 L709 312 L712 317" stroke-width="7.9"/><path d="M699 311 L697 331" stroke-width="7.8"/></g>
<path d="M744 222 L712 262 L678 307" stroke="url(#g23)" stroke-width="4.3"/>
<path d="M748 234 L748.5 272 L748 309.5 L743.5 315 L737 328 L729 345 L721 358" stroke="url(#g24)" stroke-width="5"/>
<path d="M675.12 304.81 L665.37 313.91 L657.08 328.03 L648.12 354.57 L638.1 382.11 L630.5 400.46 L624.5 412.74 L629.5 415.26 L635.9 402.94 L644.1 384.49 L654.88 357.03 L664.32 331.17 L671.83 319.09 L680.88 311.19Z" fill="url(#g25)" stroke="url(#g25)" stroke-width="0.3"/>
<path d="M671 328 L690 336" stroke="#30206a" stroke-width="5"/>
<path d="M718 328 L731 323 L746 313" stroke="#30307a" stroke-width="4.4"/>
<path d="M725.6 326.3 L741 328" stroke="#30307a" stroke-width="3.4"/>
<path d="M691 340 L711 387" stroke="url(#g26)" stroke-width="4.6"/>
<path d="M718 331 L720.5 359" stroke="url(#g27)" stroke-width="4.6"/>
<path d="M707 336 L718 350" stroke="#3050c8" stroke-width="4"/>
<path d="M712 388 L690 396 L655 404 L633 411.5" stroke="url(#g28)" stroke-width="5.7"/>
<path d="M710 390 L691 410 L660 426 L632 436.5" stroke="url(#g29)" stroke-width="5.5"/>
<path d="M720.5 359 L712 387" stroke="url(#g30)" stroke-width="8.6"/>
<path d="M673 313 L688 304.5 L700 306.5 L709 312 L712 317" stroke="#2e1c60" stroke-width="6.6"/>
<path d="M699 311 L697 331" stroke="#2e1c60" stroke-width="6.5"/>
<g stroke="#ffffff" stroke-opacity="0.13"><path d="M743.55 221.55 L711.55 261.55 L677.55 306.55" stroke-width="1.5"/><path d="M747.48 233.47 L747.98 271.48 L747.48 308.98 L742.98 314.48 L736.48 327.48 L728.48 344.48 L720.48 357.48" stroke-width="1.75"/><path d="M677.25 307.25 L667.85 315.75 L659.95 328.85 L650.75 355.05 L640.35 382.55 L632.45 400.95 L626.25 413.25" stroke-width="2.48"/><path d="M670.48 327.48 L689.48 335.48" stroke-width="1.75"/><path d="M717.54 327.54 L730.54 322.54 L745.54 312.54" stroke-width="1.54"/><path d="M725.24 325.94 L740.64 327.64" stroke-width="1.19"/><path d="M690.52 339.52 L710.52 386.52" stroke-width="1.61"/><path d="M717.52 330.52 L720.02 358.52" stroke-width="1.61"/><path d="M706.58 335.58 L717.58 349.58" stroke-width="1.4"/><path d="M711.4 387.4 L689.4 395.4 L654.4 403.4 L632.4 410.9" stroke-width="1.99"/><path d="M709.42 389.42 L690.42 409.42 L659.42 425.42 L631.42 435.92" stroke-width="1.92"/><path d="M719.6 358.1 L711.1 386.1" stroke-width="3.01"/><path d="M672.31 312.31 L687.31 303.81 L699.31 305.81 L708.31 311.31 L711.31 316.31" stroke-width="2.31"/><path d="M698.32 310.32 L696.32 330.32" stroke-width="2.27"/></g>
<circle cx="699" cy="330.5" r="8.8" fill="#2e1c60"/>
<circle cx="699" cy="317.5" r="1.3" fill="#1a1a1a" opacity="0.7"/>
<ellipse cx="710.8" cy="324.6" rx="6.6" ry="8.6" fill="#2a1040"/>
<ellipse cx="711.3" cy="324.6" rx="4.6" ry="6.4" fill="#150818" opacity="0.85"/>
<path d="M751 224.5 L757 229.5" stroke="#2c1a58" stroke-width="17"/>
<ellipse cx="761.5" cy="231.5" rx="7.6" ry="9.6" fill="#2c1a58" transform="rotate(-15 761.5 231.5)"/>
<ellipse cx="762.3" cy="231.5" rx="3.8" ry="5.6" fill="#150818" transform="rotate(-15 762.3 231.5)" opacity="0.75"/>
<ellipse cx="611" cy="414.7" rx="8.6" ry="5.6" fill="#2a2a80" transform="rotate(22 611 414.7)"/>
<ellipse cx="625.4" cy="410.8" rx="8.6" ry="5.6" fill="#3050c8" transform="rotate(22 625.4 410.8)"/>
<ellipse cx="634.5" cy="423.9" rx="8.6" ry="5.6" fill="#3050c8" transform="rotate(22 634.5 423.9)"/>
<ellipse cx="604.4" cy="430.5" rx="8.6" ry="5.6" fill="#2a2a80" transform="rotate(22 604.4 430.5)"/>
<ellipse cx="628" cy="439.6" rx="8.6" ry="5.6" fill="#3050c8" transform="rotate(22 628 439.6)"/>
<ellipse cx="612.3" cy="443.6" rx="8.6" ry="5.6" fill="#2a2a80" transform="rotate(22 612.3 443.6)"/>
<ellipse cx="622.7" cy="427.8" rx="8.2" ry="8.8" fill="#2a2a80"/>
<ellipse cx="624" cy="427.8" rx="3.6" ry="4.8" fill="#150818" opacity="0.6"/>
</g>
<g transform="translate(1672.4 520.4) scale(1.04 1.01) translate(-761 -231.5)" stroke-linecap="round" stroke-linejoin="round" fill="none">
<g stroke="#0c0c14" stroke-opacity="0.45"><path d="M744 222 L712 262 L678 307" stroke-width="7.96"/><path d="M748 234 L748.5 272 L748 309.5 L743.5 315 L737 328 L729 345 L721 358" stroke-width="9.05"/><path d="M673.53 303.06 L663.59 312.49 L655.09 327.16 L646.26 353.89 L636.45 381.45 L629.01 399.78 L623.12 412.05 L630.88 415.95 L637.39 403.62 L645.75 385.15 L656.74 357.71 L666.31 332.04 L673.61 320.51 L682.47 312.94Z" fill="#0c0c14" stroke-width="1.3"/><path d="M671 328 L690 336" stroke-width="9.05"/><path d="M718 328 L731 323 L746 313" stroke-width="8.12"/><path d="M725.6 326.3 L741 328" stroke-width="6.57"/><path d="M691 340 L697.4 383.3" stroke-width="8.43"/><path d="M718 331 L720.5 359" stroke-width="8.43"/><path d="M707 336 L718 350" stroke-width="7.5"/><path d="M698.7 385 L681.7 393.8 L652.8 403 L633 411.5" stroke-width="10.14"/><path d="M697 386 L681.7 396.4 L658.1 417.4 L632 436.5" stroke-width="9.83"/><path d="M720.5 359 L698.7 383.3" stroke-width="14.63"/><path d="M673 313 L688 304.5 L700 306.5 L709 312 L712 317" stroke-width="11.53"/><path d="M699 311 L697 331" stroke-width="11.38"/></g>
<path d="M744 222 L712 262 L678 307" stroke="url(#g31)" stroke-width="6.67"/>
<path d="M748 234 L748.5 272 L748 309.5 L743.5 315 L737 328 L729 345 L721 358" stroke="url(#g32)" stroke-width="7.75"/>
<path d="M673.53 303.06 L663.59 312.49 L655.09 327.16 L646.26 353.89 L636.45 381.45 L629.01 399.78 L623.12 412.05 L630.88 415.95 L637.39 403.62 L645.75 385.15 L656.74 357.71 L666.31 332.04 L673.61 320.51 L682.47 312.94Z" fill="url(#g33)" stroke="url(#g33)" stroke-width="0.3"/>
<path d="M671 328 L690 336" stroke="#34309a" stroke-width="7.75"/>
<path d="M718 328 L731 323 L746 313" stroke="#3a50c8" stroke-width="6.82"/>
<path d="M725.6 326.3 L741 328" stroke="#3a50c8" stroke-width="5.27"/>
<path d="M691 340 L697.4 383.3" stroke="#3a5ad0" stroke-width="7.13"/>
<path d="M718 331 L720.5 359" stroke="url(#g34)" stroke-width="7.13"/>
<path d="M707 336 L718 350" stroke="#40a0e0" stroke-width="6.2"/>
<path d="M698.7 385 L681.7 393.8 L652.8 403 L633 411.5" stroke="#3a58d0" stroke-width="8.84"/>
<path d="M697 386 L681.7 396.4 L658.1 417.4 L632 436.5" stroke="#3a5ad0" stroke-width="8.53"/>
<path d="M720.5 359 L698.7 383.3" stroke="url(#g35)" stroke-width="13.33"/>
<path d="M673 313 L688 304.5 L700 306.5 L709 312 L712 317" stroke="url(#g36)" stroke-width="10.23"/>
<path d="M699 311 L697 331" stroke="url(#g37)" stroke-width="10.08"/>
<g stroke="#ffffff" stroke-opacity="0.13"><path d="M743.3 221.3 L711.3 261.3 L677.3 306.3" stroke-width="2.33"/><path d="M747.19 233.19 L747.69 271.19 L747.19 308.69 L742.69 314.19 L736.19 327.19 L728.19 344.19 L720.19 357.19" stroke-width="2.71"/><path d="M676.84 306.84 L667.44 315.34 L659.54 328.44 L650.34 354.64 L639.94 382.14 L632.04 400.54 L625.84 412.84" stroke-width="3.85"/><path d="M670.19 327.19 L689.19 335.19" stroke-width="2.71"/><path d="M717.28 327.28 L730.28 322.28 L745.28 312.28" stroke-width="2.39"/><path d="M725.05 325.75 L740.45 327.45" stroke-width="1.84"/><path d="M690.25 339.25 L696.65 382.55" stroke-width="2.5"/><path d="M717.25 330.25 L719.75 358.25" stroke-width="2.5"/><path d="M706.35 335.35 L717.35 349.35" stroke-width="2.17"/><path d="M697.77 384.07 L680.77 392.87 L651.87 402.07 L632.07 410.57" stroke-width="3.09"/><path d="M696.1 385.1 L680.8 395.5 L657.2 416.5 L631.1 435.6" stroke-width="2.98"/><path d="M719.1 357.6 L697.3 381.9" stroke-width="4.67"/><path d="M671.93 311.93 L686.93 303.43 L698.93 305.43 L707.93 310.93 L710.93 315.93" stroke-width="3.58"/><path d="M697.94 309.94 L695.94 329.94" stroke-width="3.53"/></g>
<circle cx="699" cy="330.5" r="10.96" fill="#3a6ae0"/>
<circle cx="699" cy="317.5" r="1.3" fill="#1a1a1a" opacity="0.7"/>
<ellipse cx="710.8" cy="324.6" rx="6.6" ry="8.6" fill="#262626"/>
<ellipse cx="711.3" cy="324.6" rx="4.6" ry="6.4" fill="#262626" opacity="0.85"/>
<path d="M704 311 Q711 308.5 713 314" stroke="#f08020" stroke-width="3"/>
<path d="M700 320 L701.5 334" stroke="#f0c030" stroke-width="2.8"/>
<path d="M699.4 322 L700.4 332" stroke="#e86020" stroke-width="1.2"/>
<circle cx="716" cy="330" r="3.6" fill="#f0c030" opacity="0.9"/>
<circle cx="715" cy="332.5" r="2.6" fill="#d02810"/>
<path d="M703 337 L711 338.5" stroke="#a0e040" stroke-width="3"/>
<path d="M751 224.5 L757 229.5" stroke="#2c1650" stroke-width="17"/>
<ellipse cx="761.5" cy="231.5" rx="7.6" ry="9.6" fill="#2c1650" transform="rotate(-15 761.5 231.5)"/>
<ellipse cx="762.3" cy="231.5" rx="3.8" ry="5.6" fill="#2c1650" transform="rotate(-15 762.3 231.5)" opacity="0.75"/>
<ellipse cx="611" cy="414.7" rx="8.6" ry="5.6" fill="#2c1650" transform="rotate(22 611 414.7)"/>
<ellipse cx="625.4" cy="410.8" rx="8.6" ry="5.6" fill="#2c1650" transform="rotate(22 625.4 410.8)"/>
<ellipse cx="634.5" cy="423.9" rx="8.6" ry="5.6" fill="#2c1650" transform="rotate(22 634.5 423.9)"/>
<ellipse cx="604.4" cy="430.5" rx="8.6" ry="5.6" fill="#2c1650" transform="rotate(22 604.4 430.5)"/>
<ellipse cx="628" cy="439.6" rx="8.6" ry="5.6" fill="#2c1650" transform="rotate(22 628 439.6)"/>
<ellipse cx="612.3" cy="443.6" rx="8.6" ry="5.6" fill="#2c1650" transform="rotate(22 612.3 443.6)"/>
<ellipse cx="622.7" cy="427.8" rx="8.2" ry="8.8" fill="#2c1650"/>
<ellipse cx="624" cy="427.8" rx="3.6" ry="4.8" fill="#150818" opacity="0.6"/>
</g>
<g transform="translate(384.1 796.8) scale(0.96 0.98) translate(-761 -231.5)" stroke-linecap="round" stroke-linejoin="round" fill="none">
<g stroke="#0c0c14" stroke-opacity="0.45"><path d="M744 222 L712 262 L678 307" stroke-width="6.03"/><path d="M748 234 L748.5 272 L748 309.5 L743.5 315 L737 328 L729 345 L721 358" stroke-width="6.8"/><path d="M674.83 304.49 L665.05 313.65 L656.72 327.87 L647.78 354.44 L637.8 381.99 L630.23 400.33 L624.25 412.61 L629.75 415.39 L636.17 403.07 L644.4 384.61 L655.22 357.16 L664.68 331.33 L672.15 319.35 L681.17 311.51Z" fill="#0c0c14" stroke-width="1.3"/><path d="M671 328 L690 336" stroke-width="6.8"/><path d="M718 328 L731 323 L746 313" stroke-width="6.14"/><path d="M725.6 326.3 L741 328" stroke-width="5.04"/><path d="M691 340 L697.4 383.3" stroke-width="6.36"/><path d="M718 331 L720.5 359" stroke-width="6.36"/><path d="M707 336 L718 350" stroke-width="5.7"/><path d="M698.7 385 L681.7 393.8 L652.8 403 L633 411.5" stroke-width="7.57"/><path d="M697 386 L681.7 396.4 L658.1 417.4 L632 436.5" stroke-width="7.35"/><path d="M720.5 359 L698.7 383.3" stroke-width="10.76"/><path d="M673 313 L688 304.5 L700 306.5 L709 312 L712 317" stroke-width="8.56"/><path d="M699 311 L697 331" stroke-width="8.45"/></g>
<path d="M744 222 L712 262 L678 307" stroke="url(#g38)" stroke-width="4.73"/>
<path d="M748 234 L748.5 272 L748 309.5 L743.5 315 L737 328 L729 345 L721 358" stroke="url(#g39)" stroke-width="5.5"/>
<path d="M674.83 304.49 L665.05 313.65 L656.72 327.87 L647.78 354.44 L637.8 381.99 L630.23 400.33 L624.25 412.61 L629.75 415.39 L636.17 403.07 L644.4 384.61 L655.22 357.16 L664.68 331.33 L672.15 319.35 L681.17 311.51Z" fill="url(#g40)" stroke="url(#g40)" stroke-width="0.3"/>
<path d="M671 328 L690 336" stroke="#3040b8" stroke-width="5.5"/>
<path d="M718 328 L731 323 L746 313" stroke="#3050d0" stroke-width="4.84"/>
<path d="M725.6 326.3 L741 328" stroke="#3050d0" stroke-width="3.74"/>
<path d="M691 340 L697.4 383.3" stroke="#3060e0" stroke-width="5.06"/>
<path d="M718 331 L720.5 359" stroke="#3070e0" stroke-width="5.06"/>
<path d="M707 336 L718 350" stroke="#3060e0" stroke-width="4.4"/>
<path d="M698.7 385 L681.7 393.8 L652.8 403 L633 411.5" stroke="url(#g41)" stroke-width="6.27"/>
<path d="M697 386 L681.7 396.4 L658.1 417.4 L632 436.5" stroke="url(#g42)" stroke-width="6.05"/>
<path d="M720.5 359 L698.7 383.3" stroke="url(#g43)" stroke-width="9.46"/>
<path d="M673 313 L688 304.5 L700 306.5 L709 312 L712 317" stroke="#3040b8" stroke-width="7.26"/>
<path d="M699 311 L697 331" stroke="#3040b8" stroke-width="7.15"/>
<g stroke="#ffffff" stroke-opacity="0.13"><path d="M743.5 221.5 L711.5 261.5 L677.5 306.5" stroke-width="1.66"/><path d="M747.42 233.42 L747.92 271.42 L747.42 308.92 L742.92 314.42 L736.42 327.42 L728.42 344.42 L720.42 357.42" stroke-width="1.92"/><path d="M677.18 307.18 L667.78 315.68 L659.88 328.78 L650.68 354.98 L640.28 382.48 L632.38 400.88 L626.18 413.18" stroke-width="2.73"/><path d="M670.42 327.42 L689.42 335.42" stroke-width="1.92"/><path d="M717.49 327.49 L730.49 322.49 L745.49 312.49" stroke-width="1.69"/><path d="M725.21 325.91 L740.61 327.61" stroke-width="1.31"/><path d="M690.47 339.47 L696.87 382.77" stroke-width="1.77"/><path d="M717.47 330.47 L719.97 358.47" stroke-width="1.77"/><path d="M706.54 335.54 L717.54 349.54" stroke-width="1.54"/><path d="M698.04 384.34 L681.04 393.14 L652.14 402.34 L632.34 410.84" stroke-width="2.19"/><path d="M696.36 385.36 L681.06 395.76 L657.46 416.76 L631.36 435.86" stroke-width="2.12"/><path d="M719.51 358.01 L697.71 382.31" stroke-width="3.31"/><path d="M672.24 312.24 L687.24 303.74 L699.24 305.74 L708.24 311.24 L711.24 316.24" stroke-width="2.54"/><path d="M698.25 310.25 L696.25 330.25" stroke-width="2.5"/></g>
<circle cx="699" cy="330.5" r="9.23" fill="#2c1e6a"/>
<circle cx="699" cy="317.5" r="1.3" fill="#1a1a1a" opacity="0.7"/>
<ellipse cx="710.8" cy="324.6" rx="6.6" ry="8.6" fill="#2a1a60"/>
<ellipse cx="711.3" cy="324.6" rx="4.6" ry="6.4" fill="#150818" opacity="0.85"/>
<path d="M751 224.5 L757 229.5" stroke="#40c040" stroke-width="17"/>
<ellipse cx="761.5" cy="231.5" rx="7.6" ry="9.6" fill="#40c040" transform="rotate(-15 761.5 231.5)"/>
<ellipse cx="762.3" cy="231.5" rx="3.8" ry="5.6" fill="#208030" transform="rotate(-15 762.3 231.5)" opacity="0.75"/>
<ellipse cx="611" cy="414.7" rx="8.6" ry="5.6" fill="#d8c040" transform="rotate(22 611 414.7)"/>
<ellipse cx="625.4" cy="410.8" rx="8.6" ry="5.6" fill="#c8d040" transform="rotate(22 625.4 410.8)"/>
<ellipse cx="634.5" cy="423.9" rx="8.6" ry="5.6" fill="#e0a030" transform="rotate(22 634.5 423.9)"/>
<ellipse cx="604.4" cy="430.5" rx="8.6" ry="5.6" fill="#e09030" transform="rotate(22 604.4 430.5)"/>
<ellipse cx="628" cy="439.6" rx="8.6" ry="5.6" fill="#d04018" transform="rotate(22 628 439.6)"/>
<ellipse cx="612.3" cy="443.6" rx="8.6" ry="5.6" fill="#d03818" transform="rotate(22 612.3 443.6)"/>
<ellipse cx="622.7" cy="427.8" rx="8.2" ry="8.8" fill="#e0b030"/>
<ellipse cx="624" cy="427.8" rx="3.6" ry="4.8" fill="#150818" opacity="0.6"/>
</g>
<g transform="translate(750.5 813) scale(0.96 0.98) translate(-761 -231.5)" stroke-linecap="round" stroke-linejoin="round" fill="none">
<g stroke="#0c0c14" stroke-opacity="0.45"><path d="M744 222 L712 262 L678 307" stroke-width="6.12"/><path d="M748 234 L748.5 272 L748 309.5 L743.5 315 L737 328 L729 345 L721 358" stroke-width="6.9"/><path d="M674.77 304.43 L664.98 313.6 L656.65 327.84 L647.72 354.42 L637.74 381.96 L630.17 400.31 L624.2 412.59 L629.8 415.41 L636.23 403.09 L644.46 384.64 L655.28 357.18 L664.75 331.36 L672.22 319.4 L681.23 311.57Z" fill="#0c0c14" stroke-width="1.3"/><path d="M671 328 L690 336" stroke-width="6.9"/><path d="M718 328 L731 323 L746 313" stroke-width="6.23"/><path d="M725.6 326.3 L741 328" stroke-width="5.11"/><path d="M691 340 L697.4 383.3" stroke-width="6.45"/><path d="M718 331 L720.5 359" stroke-width="6.45"/><path d="M707 336 L718 350" stroke-width="5.78"/><path d="M698.7 385 L681.7 393.8 L652.8 403 L633 411.5" stroke-width="7.68"/><path d="M697 386 L681.7 396.4 L658.1 417.4 L632 436.5" stroke-width="7.46"/><path d="M720.5 359 L698.7 383.3" stroke-width="10.93"/><path d="M673 313 L688 304.5 L700 306.5 L709 312 L712 317" stroke-width="8.69"/><path d="M699 311 L697 331" stroke-width="8.58"/></g>
<path d="M744 222 L712 262 L678 307" stroke="#1fa890" stroke-width="4.82"/>
<path d="M748 234 L748.5 272 L748 309.5 L743.5 315 L737 328 L729 345 L721 358" stroke="#1fa890" stroke-width="5.6"/>
<path d="M674.77 304.43 L664.98 313.6 L656.65 327.84 L647.72 354.42 L637.74 381.96 L630.17 400.31 L624.2 412.59 L629.8 415.41 L636.23 403.09 L644.46 384.64 L655.28 357.18 L664.75 331.36 L672.22 319.4 L681.23 311.57Z" fill="#1fa890" stroke="#1fa890" stroke-width="0.3"/>
<path d="M671 328 L690 336" stroke="#1fa890" stroke-width="5.6"/>
<path d="M718 328 L731 323 L746 313" stroke="#1fa890" stroke-width="4.93"/>
<path d="M725.6 326.3 L741 328" stroke="#1fa890" stroke-width="3.81"/>
<path d="M691 340 L697.4 383.3" stroke="#1fa890" stroke-width="5.15"/>
<path d="M718 331 L720.5 359" stroke="#1fa890" stroke-width="5.15"/>
<path d="M707 336 L718 350" stroke="#1fa890" stroke-width="4.48"/>
<path d="M698.7 385 L681.7 393.8 L652.8 403 L633 411.5" stroke="#1fa890" stroke-width="6.38"/>
<path d="M697 386 L681.7 396.4 L658.1 417.4 L632 436.5" stroke="#1fa890" stroke-width="6.16"/>
<path d="M720.5 359 L698.7 383.3" stroke="url(#g44)" stroke-width="9.63"/>
<path d="M673 313 L688 304.5 L700 306.5 L709 312 L712 317" stroke="#1fa890" stroke-width="7.39"/>
<path d="M699 311 L697 331" stroke="#1fa890" stroke-width="7.28"/>
<g stroke="#ffffff" stroke-opacity="0.13"><path d="M743.49 221.49 L711.49 261.49 L677.49 306.49" stroke-width="1.69"/><path d="M747.41 233.41 L747.91 271.41 L747.41 308.91 L742.91 314.41 L736.41 327.41 L728.41 344.41 L720.41 357.41" stroke-width="1.96"/><path d="M677.17 307.17 L667.77 315.67 L659.87 328.77 L650.67 354.97 L640.27 382.47 L632.37 400.87 L626.17 413.17" stroke-width="2.78"/><path d="M670.41 327.41 L689.41 335.41" stroke-width="1.96"/><path d="M717.48 327.48 L730.48 322.48 L745.48 312.48" stroke-width="1.72"/><path d="M725.2 325.9 L740.6 327.6" stroke-width="1.33"/><path d="M690.46 339.46 L696.86 382.76" stroke-width="1.8"/><path d="M717.46 330.46 L719.96 358.46" stroke-width="1.8"/><path d="M706.53 335.53 L717.53 349.53" stroke-width="1.57"/><path d="M698.03 384.33 L681.03 393.13 L652.13 402.33 L632.33 410.83" stroke-width="2.23"/><path d="M696.35 385.35 L681.05 395.75 L657.45 416.75 L631.35 435.85" stroke-width="2.16"/><path d="M719.49 357.99 L697.69 382.29" stroke-width="3.37"/><path d="M672.22 312.22 L687.22 303.72 L699.22 305.72 L708.22 311.22 L711.22 316.22" stroke-width="2.59"/><path d="M698.24 310.24 L696.24 330.24" stroke-width="2.55"/></g>
<circle cx="699" cy="330.5" r="9.31" fill="#2ab088"/>
<ellipse cx="708.3" cy="325.5" rx="7.6" ry="9.2" fill="#c8c040"/>
<circle cx="699" cy="317.5" r="1.3" fill="#1a1a1a" opacity="0.7"/>
<ellipse cx="710.8" cy="324.6" rx="6.6" ry="8.6" fill="#2040c0"/>
<ellipse cx="711.3" cy="324.6" rx="4.6" ry="6.4" fill="#e08020" opacity="0.85"/>
<path d="M751 224.5 L757 229.5" stroke="#1fa890" stroke-width="17"/>
<ellipse cx="761.5" cy="231.5" rx="7.6" ry="9.6" fill="#1fa890" transform="rotate(-15 761.5 231.5)"/>
<ellipse cx="762.3" cy="231.5" rx="3.8" ry="5.6" fill="#137060" transform="rotate(-15 762.3 231.5)" opacity="0.75"/>
<ellipse cx="611" cy="414.7" rx="8.6" ry="5.6" fill="#1fa890" transform="rotate(22 611 414.7)"/>
<ellipse cx="625.4" cy="410.8" rx="8.6" ry="5.6" fill="#1fa890" transform="rotate(22 625.4 410.8)"/>
<ellipse cx="634.5" cy="423.9" rx="8.6" ry="5.6" fill="#1fa890" transform="rotate(22 634.5 423.9)"/>
<ellipse cx="604.4" cy="430.5" rx="8.6" ry="5.6" fill="#1fa890" transform="rotate(22 604.4 430.5)"/>
<ellipse cx="628" cy="439.6" rx="8.6" ry="5.6" fill="#1fa890" transform="rotate(22 628 439.6)"/>
<ellipse cx="612.3" cy="443.6" rx="8.6" ry="5.6" fill="#1fa890" transform="rotate(22 612.3 443.6)"/>
<ellipse cx="622.7" cy="427.8" rx="8.2" ry="8.8" fill="#1fa890"/>
<ellipse cx="624" cy="427.8" rx="3.6" ry="4.8" fill="#150818" opacity="0.6"/>
</g>
<g transform="translate(1172.7 809.7) scale(0.95 0.95) translate(-761 -231.5)" stroke-linecap="round" stroke-linejoin="round" fill="none">
<g stroke="#0c0c14" stroke-opacity="0.45"><path d="M744 222 L712 262 L678 307" stroke-width="5.81"/><path d="M748 234 L748.5 272 L748 309.5 L743.5 315 L737 328 L729 345 L721 358" stroke-width="6.55"/><path d="M674.97 304.65 L665.21 313.78 L656.9 327.95 L647.95 354.51 L637.95 382.05 L630.36 400.4 L624.37 412.68 L629.63 415.32 L636.04 403 L644.25 384.55 L655.05 357.09 L664.5 331.25 L671.99 319.22 L681.03 311.35Z" fill="#0c0c14" stroke-width="1.3"/><path d="M671 328 L690 336" stroke-width="6.55"/><path d="M718 328 L731 323 L746 313" stroke-width="5.92"/><path d="M725.6 326.3 L741 328" stroke-width="4.87"/><path d="M691 340 L697.4 383.3" stroke-width="6.13"/><path d="M718 331 L720.5 359" stroke-width="6.13"/><path d="M707 336 L718 350" stroke-width="5.5"/><path d="M698.7 385 L681.7 393.8 L652.8 403 L633 411.5" stroke-width="7.29"/><path d="M697 386 L681.7 396.4 L658.1 417.4 L632 436.5" stroke-width="7.08"/><path d="M720.5 359 L698.7 383.3" stroke-width="10.33"/><path d="M673 313 L688 304.5 L700 306.5 L709 312 L712 317" stroke-width="8.23"/><path d="M699 311 L697 331" stroke-width="8.12"/></g>
<path d="M744 222 L712 262 L678 307" stroke="#2c1a5c" stroke-width="4.51"/>
<path d="M748 234 L748.5 272 L748 309.5 L743.5 315 L737 328 L729 345 L721 358" stroke="#2c1a5c" stroke-width="5.25"/>
<path d="M674.97 304.65 L665.21 313.78 L656.9 327.95 L647.95 354.51 L637.95 382.05 L630.36 400.4 L624.37 412.68 L629.63 415.32 L636.04 403 L644.25 384.55 L655.05 357.09 L664.5 331.25 L671.99 319.22 L681.03 311.35Z" fill="#2c1a5c" stroke="#2c1a5c" stroke-width="0.3"/>
<path d="M671 328 L690 336" stroke="#2c1a5c" stroke-width="5.25"/>
<path d="M718 328 L731 323 L746 313" stroke="#2c1a5c" stroke-width="4.62"/>
<path d="M725.6 326.3 L741 328" stroke="#2c1a5c" stroke-width="3.57"/>
<path d="M691 340 L697.4 383.3" stroke="#2c1a5c" stroke-width="4.83"/>
<path d="M718 331 L720.5 359" stroke="#2c1a5c" stroke-width="4.83"/>
<path d="M707 336 L718 350" stroke="#2c1a5c" stroke-width="4.2"/>
<path d="M698.7 385 L681.7 393.8 L652.8 403 L633 411.5" stroke="#2c1a5c" stroke-width="5.99"/>
<path d="M697 386 L681.7 396.4 L658.1 417.4 L632 436.5" stroke="#2c1a5c" stroke-width="5.78"/>
<path d="M720.5 359 L698.7 383.3" stroke="#30287a" stroke-width="9.03"/>
<path d="M673 313 L688 304.5 L700 306.5 L709 312 L712 317" stroke="#34308a" stroke-width="6.93"/>
<path d="M699 311 L697 331" stroke="#34308a" stroke-width="6.83"/>
<g stroke="#ffffff" stroke-opacity="0.13"><path d="M743.53 221.53 L711.53 261.53 L677.53 306.53" stroke-width="1.58"/><path d="M747.45 233.45 L747.95 271.45 L747.45 308.95 L742.95 314.45 L736.45 327.45 L728.45 344.45 L720.45 357.45" stroke-width="1.84"/><path d="M677.22 307.22 L667.82 315.72 L659.92 328.82 L650.72 355.02 L640.32 382.52 L632.42 400.92 L626.22 413.22" stroke-width="2.61"/><path d="M670.45 327.45 L689.45 335.45" stroke-width="1.84"/><path d="M717.51 327.51 L730.51 322.51 L745.51 312.51" stroke-width="1.62"/><path d="M725.23 325.93 L740.63 327.63" stroke-width="1.25"/><path d="M690.49 339.49 L696.89 382.79" stroke-width="1.69"/><path d="M717.49 330.49 L719.99 358.49" stroke-width="1.69"/><path d="M706.56 335.56 L717.56 349.56" stroke-width="1.47"/><path d="M698.07 384.37 L681.07 393.17 L652.17 402.37 L632.37 410.87" stroke-width="2.09"/><path d="M696.39 385.39 L681.09 395.79 L657.49 416.79 L631.39 435.89" stroke-width="2.02"/><path d="M719.55 358.05 L697.75 382.35" stroke-width="3.16"/><path d="M672.27 312.27 L687.27 303.77 L699.27 305.77 L708.27 311.27 L711.27 316.27" stroke-width="2.43"/><path d="M698.28 310.28 L696.28 330.28" stroke-width="2.39"/></g>
<circle cx="699" cy="330.5" r="9.02" fill="#3a40a8"/>
<ellipse cx="708.3" cy="325.5" rx="7.6" ry="9.2" fill="#40b0c0"/>
<circle cx="699" cy="317.5" r="1.3" fill="#1a1a1a" opacity="0.7"/>
<ellipse cx="710.8" cy="324.6" rx="6.6" ry="8.6" fill="#3050c8"/>
<ellipse cx="711.3" cy="324.6" rx="4.6" ry="6.4" fill="#150818" opacity="0.85"/>
<path d="M751 224.5 L757 229.5" stroke="#2c1a5c" stroke-width="17"/>
<ellipse cx="761.5" cy="231.5" rx="7.6" ry="9.6" fill="#2c1a5c" transform="rotate(-15 761.5 231.5)"/>
<ellipse cx="762.3" cy="231.5" rx="3.8" ry="5.6" fill="#1a0c30" transform="rotate(-15 762.3 231.5)" opacity="0.75"/>
<ellipse cx="611" cy="414.7" rx="8.6" ry="5.6" fill="#2c1a5c" transform="rotate(22 611 414.7)"/>
<ellipse cx="625.4" cy="410.8" rx="8.6" ry="5.6" fill="#2c1a5c" transform="rotate(22 625.4 410.8)"/>
<ellipse cx="634.5" cy="423.9" rx="8.6" ry="5.6" fill="#2c1a5c" transform="rotate(22 634.5 423.9)"/>
<ellipse cx="604.4" cy="430.5" rx="8.6" ry="5.6" fill="#2c1a5c" transform="rotate(22 604.4 430.5)"/>
<ellipse cx="628" cy="439.6" rx="8.6" ry="5.6" fill="#2c1a5c" transform="rotate(22 628 439.6)"/>
<ellipse cx="612.3" cy="443.6" rx="8.6" ry="5.6" fill="#2c1a5c" transform="rotate(22 612.3 443.6)"/>
<ellipse cx="622.7" cy="427.8" rx="8.2" ry="8.8" fill="#2c1a5c"/>
<ellipse cx="624" cy="427.8" rx="3.6" ry="4.8" fill="#150818" opacity="0.6"/>
</g>
<g transform="translate(1597.7 821.3) scale(0.96 0.96) translate(-761 -231.5)" stroke-linecap="round" stroke-linejoin="round" fill="none">
<g stroke="#0c0c14" stroke-opacity="0.45"><path d="M744 222 L712 262 L678 307" stroke-width="5.6"/><path d="M748 234 L748.5 272 L748 309.5 L743.5 315 L737 328 L729 345 L721 358" stroke-width="6.3"/><path d="M675.12 304.81 L665.37 313.91 L657.08 328.03 L648.12 354.57 L638.1 382.11 L630.5 400.46 L624.5 412.74 L629.5 415.26 L635.9 402.94 L644.1 384.49 L654.88 357.03 L664.32 331.17 L671.83 319.09 L680.88 311.19Z" fill="#0c0c14" stroke-width="1.3"/><path d="M671 328 L690 336" stroke-width="6.3"/><path d="M718 328 L731 323 L746 313" stroke-width="5.7"/><path d="M725.6 326.3 L741 328" stroke-width="4.7"/><path d="M691 340 L697.4 383.3" stroke-width="5.9"/><path d="M718 331 L720.5 359" stroke-width="5.9"/><path d="M707 336 L718 350" stroke-width="5.3"/><path d="M698.7 385 L681.7 393.8 L652.8 403 L633 411.5" stroke-width="7"/><path d="M697 386 L681.7 396.4 L658.1 417.4 L632 436.5" stroke-width="6.8"/><path d="M720.5 359 L698.7 383.3" stroke-width="9.9"/><path d="M673 313 L688 304.5 L700 306.5 L709 312 L712 317" stroke-width="7.9"/><path d="M699 311 L697 331" stroke-width="7.8"/></g>
<path d="M744 222 L712 262 L678 307" stroke="#2a40b8" stroke-width="4.3"/>
<path d="M748 234 L748.5 272 L748 309.5 L743.5 315 L737 328 L729 345 L721 358" stroke="url(#g45)" stroke-width="5"/>
<path d="M675.12 304.81 L665.37 313.91 L657.08 328.03 L648.12 354.57 L638.1 382.11 L630.5 400.46 L624.5 412.74 L629.5 415.26 L635.9 402.94 L644.1 384.49 L654.88 357.03 L664.32 331.17 L671.83 319.09 L680.88 311.19Z" fill="url(#g46)" stroke="url(#g46)" stroke-width="0.3"/>
<path d="M671 328 L690 336" stroke="#2a40b8" stroke-width="5"/>
<path d="M718 328 L731 323 L746 313" stroke="#2a48c8" stroke-width="4.4"/>
<path d="M725.6 326.3 L741 328" stroke="#2a48c8" stroke-width="3.4"/>
<path d="M691 340 L697.4 383.3" stroke="#2a48c8" stroke-width="4.6"/>
<path d="M718 331 L720.5 359" stroke="#e0a030" stroke-width="4.6"/>
<path d="M707 336 L718 350" stroke="#2a60d0" stroke-width="4"/>
<path d="M698.7 385 L681.7 393.8 L652.8 403 L633 411.5" stroke="url(#g47)" stroke-width="5.7"/>
<path d="M697 386 L681.7 396.4 L658.1 417.4 L632 436.5" stroke="url(#g48)" stroke-width="5.5"/>
<path d="M720.5 359 L698.7 383.3" stroke="url(#g49)" stroke-width="8.6"/>
<path d="M673 313 L688 304.5 L700 306.5 L709 312 L712 317" stroke="#2a50cc" stroke-width="6.6"/>
<path d="M699 311 L697 331" stroke="#2a50cc" stroke-width="6.5"/>
<g stroke="#ffffff" stroke-opacity="0.13"><path d="M743.55 221.55 L711.55 261.55 L677.55 306.55" stroke-width="1.5"/><path d="M747.48 233.47 L747.98 271.48 L747.48 308.98 L742.98 314.48 L736.48 327.48 L728.48 344.48 L720.48 357.48" stroke-width="1.75"/><path d="M677.25 307.25 L667.85 315.75 L659.95 328.85 L650.75 355.05 L640.35 382.55 L632.45 400.95 L626.25 413.25" stroke-width="2.48"/><path d="M670.48 327.48 L689.48 335.48" stroke-width="1.75"/><path d="M717.54 327.54 L730.54 322.54 L745.54 312.54" stroke-width="1.54"/><path d="M725.24 325.94 L740.64 327.64" stroke-width="1.19"/><path d="M690.52 339.52 L696.92 382.82" stroke-width="1.61"/><path d="M717.52 330.52 L720.02 358.52" stroke-width="1.61"/><path d="M706.58 335.58 L717.58 349.58" stroke-width="1.4"/><path d="M698.1 384.4 L681.1 393.2 L652.2 402.4 L632.4 410.9" stroke-width="1.99"/><path d="M696.42 385.42 L681.12 395.82 L657.52 416.82 L631.42 435.92" stroke-width="1.92"/><path d="M719.6 358.1 L697.8 382.4" stroke-width="3.01"/><path d="M672.31 312.31 L687.31 303.81 L699.31 305.81 L708.31 311.31 L711.31 316.31" stroke-width="2.31"/><path d="M698.32 310.32 L696.32 330.32" stroke-width="2.27"/></g>
<circle cx="699" cy="330.5" r="8.8" fill="#2a60d0"/>
<circle cx="699" cy="317.5" r="1.3" fill="#1a1a1a" opacity="0.7"/>
<ellipse cx="710.8" cy="324.6" rx="6.6" ry="8.6" fill="#2a2a90"/>
<ellipse cx="711.3" cy="324.6" rx="4.6" ry="6.4" fill="#150818" opacity="0.85"/>
<path d="M751 224.5 L757 229.5" stroke="#2a3aa8" stroke-width="17"/>
<ellipse cx="761.5" cy="231.5" rx="7.6" ry="9.6" fill="#2a3aa8" transform="rotate(-15 761.5 231.5)"/>
<ellipse cx="762.3" cy="231.5" rx="3.8" ry="5.6" fill="#1a1a60" transform="rotate(-15 762.3 231.5)" opacity="0.75"/>
<ellipse cx="611" cy="414.7" rx="8.6" ry="5.6" fill="#2a38b0" transform="rotate(22 611 414.7)"/>
<ellipse cx="625.4" cy="410.8" rx="8.6" ry="5.6" fill="#2a38b0" transform="rotate(22 625.4 410.8)"/>
<ellipse cx="634.5" cy="423.9" rx="8.6" ry="5.6" fill="#2a38b0" transform="rotate(22 634.5 423.9)"/>
<ellipse cx="604.4" cy="430.5" rx="8.6" ry="5.6" fill="#2a38b0" transform="rotate(22 604.4 430.5)"/>
<ellipse cx="628" cy="439.6" rx="8.6" ry="5.6" fill="#2a38b0" transform="rotate(22 628 439.6)"/>
<ellipse cx="612.3" cy="443.6" rx="8.6" ry="5.6" fill="#2a38b0" transform="rotate(22 612.3 443.6)"/>
<ellipse cx="622.7" cy="427.8" rx="8.2" ry="8.8" fill="#2a38b0"/>
<ellipse cx="624" cy="427.8" rx="3.6" ry="4.8" fill="#150818" opacity="0.6"/>
</g>
<g><rect x="432.9" y="224.8" width="79.1" height="222.2" fill="#252525"/><rect x="432.9" y="215.1" width="79.1" height="9.7" fill="#323232"/><text x="434.57" y="222.18" font-family="'Roboto','Liberation Sans',sans-serif" font-size="5.77" font-weight="500" fill="#ececec" textLength="59.01" lengthAdjust="spacingAndGlyphs">Static Structural Result_41</text><path d="M507.07 219.02 h3.91 l-1.95 2.14 z" fill="#e8e8e8"/><text x="439.8" y="236.2" font-family="'Roboto','Liberation Sans',sans-serif" font-size="5.39" font-weight="400" fill="#c8c8c8" textLength="35" lengthAdjust="spacingAndGlyphs">Static Analysis</text><text x="439.8" y="278.8" font-family="'Roboto','Liberation Sans',sans-serif" font-size="5.39" font-weight="400" fill="#c8c8c8" textLength="44.2" lengthAdjust="spacingAndGlyphs">Deformation Scale</text><rect x="438.6" y="243.3" width="70.3" height="9.7" fill="#252525" stroke="#343434" stroke-width="0.6"/><text x="440.09" y="250.28" font-family="'Roboto','Liberation Sans',sans-serif" font-size="5.21" font-weight="400" fill="#d6d6d6" textLength="27.34" lengthAdjust="spacingAndGlyphs">Displacement</text><path d="M503.41 247.22 h3.91 l-1.95 2.14 z" fill="#e8e8e8"/><rect x="438.6" y="258.1" width="70.3" height="9.8" fill="#252525" stroke="#343434" stroke-width="0.6"/><text x="440.09" y="265.16" font-family="'Roboto','Liberation Sans',sans-serif" font-size="5.21" font-weight="400" fill="#d6d6d6">Total</text><path d="M503.41 262.07 h3.91 l-1.95 2.14 z" fill="#e8e8e8"/><rect x="438.6" y="283.4" width="28" height="10.4" fill="#242424" stroke="#353535" stroke-width="0.6"/><text x="440.09" y="290.89" font-family="'Roboto','Liberation Sans',sans-serif" font-size="5.21" font-weight="400" fill="#d6d6d6">0</text><line x1="470.3" y1="288.5" x2="505.9" y2="288.5" stroke="#0e2a5c" stroke-width="1.77" stroke-linecap="round"/><circle cx="470.3" cy="288.5" r="2.7" fill="#2d7ff9"/><rect x="438.6" y="298.6" width="70.3" height="0.7" fill="#303030"/><g fill="#d0d0d0"><circle cx="444.5" cy="309" r="2.88"/><rect x="443.46" y="305" width="2.08" height="8" rx="0.4" transform="rotate(0 444.5 309)"/><rect x="443.46" y="305" width="2.08" height="8" rx="0.4" transform="rotate(60 444.5 309)"/><rect x="443.46" y="305" width="2.08" height="8" rx="0.4" transform="rotate(120 444.5 309)"/></g><circle cx="444.5" cy="309" r="1.2" fill="#1e1e1e"/><g fill="#d0d0d0"><rect x="458.56" y="305.09" width="4.69" height="1.37"/><path d="M459.81 306.34 L461.99 306.34 L462.54 309.39 L459.26 309.39 Z"/><rect x="457.7" y="309.2" width="6.41" height="1.48"/><rect x="460.47" y="310.64" width="0.86" height="2.34"/></g><rect x="473.41" y="305.52" width="5.73" height="7.37" rx="1.43" fill="#c4c4c4"/><rect x="473.41" y="305.52" width="1.02" height="7.37" fill="#a8a8a8"/><ellipse cx="479.55" cy="306.75" rx="2.05" ry="1.23" fill="#f02020"/><ellipse cx="479.96" cy="310.43" rx="2.25" ry="1.23" fill="#3070f8"/><rect x="438.6" y="319.3" width="70.3" height="9.7" fill="#252525" stroke="#343434" stroke-width="0.6"/><text x="440.09" y="326.28" font-family="'Roboto','Liberation Sans',sans-serif" font-size="5.21" font-weight="400" fill="#d6d6d6" textLength="20.51" lengthAdjust="spacingAndGlyphs">Units: mm</text><path d="M503.41 323.22 h3.91 l-1.95 2.14 z" fill="#e8e8e8"/><defs><linearGradient id="cb1" x1="0" y1="1" x2="0" y2="0"><stop offset="0" stop-color="#30123b"/><stop offset="0.1" stop-color="#4458cb"/><stop offset="0.2" stop-color="#3e9bfe"/><stop offset="0.3" stop-color="#18d5cc"/><stop offset="0.4" stop-color="#46f783"/><stop offset="0.5" stop-color="#a4fc3b"/><stop offset="0.6" stop-color="#e1dc37"/><stop offset="0.7" stop-color="#fda330"/><stop offset="0.8" stop-color="#ef5a11"/><stop offset="0.9" stop-color="#c32402"/><stop offset="1" stop-color="#7a0402"/></linearGradient></defs><rect x="451.2" y="336.6" width="10.3" height="104" fill="url(#cb1)"/><rect x="461.8" y="336.04" width="3.91" height="1.12" fill="#e8e8e8"/><text x="470" y="338.37" font-family="'Roboto','Liberation Sans',sans-serif" font-size="4.93" font-weight="400" fill="#d0d0d0" textLength="28.83" lengthAdjust="spacingAndGlyphs">6.32141e-01</text><rect x="461.8" y="353.38" width="3.91" height="1.12" fill="#e8e8e8"/><text x="470" y="355.7" font-family="'Roboto','Liberation Sans',sans-serif" font-size="4.93" font-weight="400" fill="#d0d0d0" textLength="28.83" lengthAdjust="spacingAndGlyphs">5.26784e-01</text><rect x="461.8" y="370.71" width="3.91" height="1.12" fill="#e8e8e8"/><text x="470" y="373.03" font-family="'Roboto','Liberation Sans',sans-serif" font-size="4.93" font-weight="400" fill="#d0d0d0" textLength="28.83" lengthAdjust="spacingAndGlyphs">4.21427e-01</text><rect x="461.8" y="388.04" width="3.91" height="1.12" fill="#e8e8e8"/><text x="470" y="390.37" font-family="'Roboto','Liberation Sans',sans-serif" font-size="4.93" font-weight="400" fill="#d0d0d0" textLength="28.83" lengthAdjust="spacingAndGlyphs">3.16071e-01</text><rect x="461.8" y="405.38" width="3.91" height="1.12" fill="#e8e8e8"/><text x="470" y="407.7" font-family="'Roboto','Liberation Sans',sans-serif" font-size="4.93" font-weight="400" fill="#d0d0d0" textLength="28.83" lengthAdjust="spacingAndGlyphs">2.10714e-01</text><rect x="461.8" y="422.71" width="3.91" height="1.12" fill="#e8e8e8"/><text x="470" y="425.03" font-family="'Roboto','Liberation Sans',sans-serif" font-size="4.93" font-weight="400" fill="#d0d0d0" textLength="28.83" lengthAdjust="spacingAndGlyphs">1.05357e-01</text><rect x="461.8" y="440.04" width="3.91" height="1.12" fill="#e8e8e8"/><text x="470" y="442.37" font-family="'Roboto','Liberation Sans',sans-serif" font-size="4.93" font-weight="400" fill="#d0d0d0" textLength="28.83" lengthAdjust="spacingAndGlyphs">0.00000e+00</text></g>
<g><rect x="854.1" y="207.8" width="84" height="248.2" fill="#252525"/><rect x="854.1" y="198.1" width="84" height="9.7" fill="#323232"/><text x="855.88" y="205.18" font-family="'Roboto','Liberation Sans',sans-serif" font-size="6.14" font-weight="500" fill="#ececec" textLength="62.82" lengthAdjust="spacingAndGlyphs">Static Structural Result_41</text><path d="M932.85 201.96 h4.16 l-2.08 2.28 z" fill="#e8e8e8"/><text x="860.8" y="220" font-family="'Roboto','Liberation Sans',sans-serif" font-size="5.74" font-weight="400" fill="#c8c8c8" textLength="37" lengthAdjust="spacingAndGlyphs">Static Analysis</text><text x="860.8" y="279.8" font-family="'Roboto','Liberation Sans',sans-serif" font-size="5.74" font-weight="400" fill="#c8c8c8" textLength="46.5" lengthAdjust="spacingAndGlyphs">Deformation Scale</text><rect x="860.2" y="227.3" width="73.6" height="10.3" fill="#252525" stroke="#343434" stroke-width="0.6"/><text x="861.78" y="234.72" font-family="'Roboto','Liberation Sans',sans-serif" font-size="5.54" font-weight="400" fill="#d6d6d6">Strain</text><path d="M927.96 231.46 h4.16 l-2.08 2.28 z" fill="#e8e8e8"/><rect x="860.2" y="243.1" width="73.6" height="9.7" fill="#252525" stroke="#343434" stroke-width="0.6"/><text x="861.78" y="250.08" font-family="'Roboto','Liberation Sans',sans-serif" font-size="5.54" font-weight="400" fill="#d6d6d6" textLength="21.83" lengthAdjust="spacingAndGlyphs">Principal</text><path d="M927.96 246.96 h4.16 l-2.08 2.28 z" fill="#e8e8e8"/><rect x="860.2" y="258.3" width="73.6" height="10.3" fill="#252525" stroke="#343434" stroke-width="0.6"/><text x="861.78" y="265.72" font-family="'Roboto','Liberation Sans',sans-serif" font-size="5.54" font-weight="400" fill="#d6d6d6">Max</text><path d="M927.96 262.46 h4.16 l-2.08 2.28 z" fill="#e8e8e8"/><rect x="860.2" y="285" width="29.2" height="10.4" fill="#242424" stroke="#353535" stroke-width="0.6"/><text x="861.78" y="292.49" font-family="'Roboto','Liberation Sans',sans-serif" font-size="5.54" font-weight="400" fill="#d6d6d6">0</text><line x1="893.7" y1="290.3" x2="931.4" y2="290.3" stroke="#0e2a5c" stroke-width="1.88" stroke-linecap="round"/><circle cx="893.7" cy="290.3" r="2.87" fill="#2d7ff9"/><rect x="860.2" y="300.9" width="73.6" height="0.7" fill="#303030"/><g fill="#d0d0d0"><circle cx="866.3" cy="311.8" r="3.07"/><rect x="865.19" y="307.54" width="2.21" height="8.51" rx="0.43" transform="rotate(0 866.3 311.8)"/><rect x="865.19" y="307.54" width="2.21" height="8.51" rx="0.43" transform="rotate(60 866.3 311.8)"/><rect x="865.19" y="307.54" width="2.21" height="8.51" rx="0.43" transform="rotate(120 866.3 311.8)"/></g><circle cx="866.3" cy="311.8" r="1.28" fill="#1e1e1e"/><g fill="#d0d0d0"><rect x="881.21" y="307.64" width="4.99" height="1.46"/><path d="M882.54 308.97 L884.86 308.97 L885.45 312.22 L881.95 312.22 Z"/><rect x="880.29" y="312.01" width="6.82" height="1.58"/><rect x="883.24" y="313.55" width="0.91" height="2.49"/></g><rect x="896.86" y="308.1" width="6.1" height="7.84" rx="1.52" fill="#c4c4c4"/><rect x="896.86" y="308.1" width="1.09" height="7.84" fill="#a8a8a8"/><ellipse cx="903.4" cy="309.4" rx="2.18" ry="1.31" fill="#f02020"/><ellipse cx="903.83" cy="313.32" rx="2.4" ry="1.31" fill="#3070f8"/><defs><linearGradient id="cb2" x1="0" y1="1" x2="0" y2="0"><stop offset="0" stop-color="#30123b"/><stop offset="0.1" stop-color="#4458cb"/><stop offset="0.2" stop-color="#3e9bfe"/><stop offset="0.3" stop-color="#18d5cc"/><stop offset="0.4" stop-color="#46f783"/><stop offset="0.5" stop-color="#a4fc3b"/><stop offset="0.6" stop-color="#e1dc37"/><stop offset="0.7" stop-color="#fda330"/><stop offset="0.8" stop-color="#ef5a11"/><stop offset="0.9" stop-color="#c32402"/><stop offset="1" stop-color="#7a0402"/></linearGradient></defs><rect x="873.5" y="325.2" width="10.8" height="124.8" fill="url(#cb2)"/><rect x="884.6" y="324.61" width="4.16" height="1.19" fill="#e8e8e8"/><text x="893.8" y="327.08" font-family="'Roboto','Liberation Sans',sans-serif" font-size="5.25" font-weight="400" fill="#d0d0d0" textLength="30.69" lengthAdjust="spacingAndGlyphs">3.10946e-04</text><rect x="884.6" y="345.41" width="4.16" height="1.19" fill="#e8e8e8"/><text x="893.8" y="347.88" font-family="'Roboto','Liberation Sans',sans-serif" font-size="5.25" font-weight="400" fill="#d0d0d0" textLength="30.69" lengthAdjust="spacingAndGlyphs">2.59122e-04</text><rect x="884.6" y="366.21" width="4.16" height="1.19" fill="#e8e8e8"/><text x="893.8" y="368.68" font-family="'Roboto','Liberation Sans',sans-serif" font-size="5.25" font-weight="400" fill="#d0d0d0" textLength="30.69" lengthAdjust="spacingAndGlyphs">2.07297e-04</text><rect x="884.6" y="387.01" width="4.16" height="1.19" fill="#e8e8e8"/><text x="893.8" y="389.48" font-family="'Roboto','Liberation Sans',sans-serif" font-size="5.25" font-weight="400" fill="#d0d0d0" textLength="30.69" lengthAdjust="spacingAndGlyphs">1.55473e-04</text><rect x="884.6" y="407.81" width="4.16" height="1.19" fill="#e8e8e8"/><text x="893.8" y="410.28" font-family="'Roboto','Liberation Sans',sans-serif" font-size="5.25" font-weight="400" fill="#d0d0d0" textLength="30.69" lengthAdjust="spacingAndGlyphs">1.03649e-04</text><rect x="884.6" y="428.61" width="4.16" height="1.19" fill="#e8e8e8"/><text x="893.8" y="431.08" font-family="'Roboto','Liberation Sans',sans-serif" font-size="5.25" font-weight="400" fill="#d0d0d0" textLength="30.69" lengthAdjust="spacingAndGlyphs">5.18243e-05</text><rect x="884.6" y="449.41" width="4.16" height="1.19" fill="#e8e8e8"/><text x="893.8" y="451.88" font-family="'Roboto','Liberation Sans',sans-serif" font-size="5.25" font-weight="400" fill="#d0d0d0" textLength="30.69" lengthAdjust="spacingAndGlyphs">0.00000e+00</text></g>
<g><rect x="1246.7" y="213.8" width="85.1" height="236.2" fill="#252525"/><rect x="1246.7" y="203.8" width="85.1" height="10" fill="#323232"/><text x="1248.5" y="211.1" font-family="'Roboto','Liberation Sans',sans-serif" font-size="6.2" font-weight="500" fill="#ececec" textLength="63.45" lengthAdjust="spacingAndGlyphs">Static Structural Result_41</text><path d="M1326.5 207.8 h4.2 l-2.1 2.3 z" fill="#e8e8e8"/><text x="1253.6" y="226" font-family="'Roboto','Liberation Sans',sans-serif" font-size="5.8" font-weight="400" fill="#c8c8c8" textLength="37.5" lengthAdjust="spacingAndGlyphs">Static Analysis</text><text x="1253.6" y="271.6" font-family="'Roboto','Liberation Sans',sans-serif" font-size="5.8" font-weight="400" fill="#c8c8c8" textLength="47" lengthAdjust="spacingAndGlyphs">Deformation Scale</text><rect x="1253.1" y="233.3" width="74.7" height="10.3" fill="#252525" stroke="#343434" stroke-width="0.6"/><text x="1254.7" y="240.72" font-family="'Roboto','Liberation Sans',sans-serif" font-size="5.6" font-weight="400" fill="#d6d6d6">Stress</text><path d="M1321.9 237.45 h4.2 l-2.1 2.3 z" fill="#e8e8e8"/><rect x="1253.1" y="249.3" width="74.7" height="10.4" fill="#252525" stroke="#343434" stroke-width="0.6"/><text x="1254.7" y="256.79" font-family="'Roboto','Liberation Sans',sans-serif" font-size="5.6" font-weight="400" fill="#d6d6d6" textLength="22.05" lengthAdjust="spacingAndGlyphs">Von Mises</text><path d="M1321.9 253.5 h4.2 l-2.1 2.3 z" fill="#e8e8e8"/><rect x="1253.1" y="276.5" width="29.5" height="10.3" fill="#242424" stroke="#353535" stroke-width="0.6"/><text x="1254.7" y="283.92" font-family="'Roboto','Liberation Sans',sans-serif" font-size="5.6" font-weight="400" fill="#d6d6d6">0</text><line x1="1286.8" y1="281.9" x2="1325.2" y2="281.9" stroke="#0e2a5c" stroke-width="1.9" stroke-linecap="round"/><circle cx="1286.8" cy="281.9" r="2.9" fill="#2d7ff9"/><rect x="1253.1" y="292.3" width="74.7" height="0.7" fill="#303030"/><g fill="#d0d0d0"><circle cx="1258.9" cy="303.8" r="3.1"/><rect x="1257.78" y="299.5" width="2.24" height="8.6" rx="0.43" transform="rotate(0 1258.9 303.8)"/><rect x="1257.78" y="299.5" width="2.24" height="8.6" rx="0.43" transform="rotate(60 1258.9 303.8)"/><rect x="1257.78" y="299.5" width="2.24" height="8.6" rx="0.43" transform="rotate(120 1258.9 303.8)"/></g><circle cx="1258.9" cy="303.8" r="1.29" fill="#1e1e1e"/><g fill="#d0d0d0"><rect x="1273.98" y="299.6" width="5.04" height="1.47"/><path d="M1275.32 300.94 L1277.68 300.94 L1278.26 304.22 L1274.74 304.22 Z"/><rect x="1273.06" y="304.01" width="6.89" height="1.6"/><rect x="1276.04" y="305.56" width="0.92" height="2.52"/></g><rect x="1289.92" y="300.06" width="6.16" height="7.92" rx="1.54" fill="#c4c4c4"/><rect x="1289.92" y="300.06" width="1.1" height="7.92" fill="#a8a8a8"/><ellipse cx="1296.52" cy="301.38" rx="2.2" ry="1.32" fill="#f02020"/><ellipse cx="1296.96" cy="305.34" rx="2.42" ry="1.32" fill="#3070f8"/><rect x="1253.1" y="314.5" width="74.7" height="10.6" fill="#252525" stroke="#343434" stroke-width="0.6"/><text x="1254.7" y="322.13" font-family="'Roboto','Liberation Sans',sans-serif" font-size="5.6" font-weight="400" fill="#d6d6d6" textLength="22.05" lengthAdjust="spacingAndGlyphs">Units: Pa</text><path d="M1321.9 318.8 h4.2 l-2.1 2.3 z" fill="#e8e8e8"/><defs><linearGradient id="cb3" x1="0" y1="1" x2="0" y2="0"><stop offset="0" stop-color="#30123b"/><stop offset="0.1" stop-color="#4458cb"/><stop offset="0.2" stop-color="#3e9bfe"/><stop offset="0.3" stop-color="#18d5cc"/><stop offset="0.4" stop-color="#46f783"/><stop offset="0.5" stop-color="#a4fc3b"/><stop offset="0.6" stop-color="#e1dc37"/><stop offset="0.7" stop-color="#fda330"/><stop offset="0.8" stop-color="#ef5a11"/><stop offset="0.9" stop-color="#c32402"/><stop offset="1" stop-color="#7a0402"/></linearGradient></defs><rect x="1266.2" y="333.5" width="11.1" height="110.8" fill="url(#cb3)"/><rect x="1277.6" y="332.9" width="4.2" height="1.2" fill="#e8e8e8"/><text x="1286.9" y="335.4" font-family="'Roboto','Liberation Sans',sans-serif" font-size="5.3" font-weight="400" fill="#d0d0d0" textLength="31" lengthAdjust="spacingAndGlyphs">4.31128e+07</text><rect x="1277.6" y="351.37" width="4.2" height="1.2" fill="#e8e8e8"/><text x="1286.9" y="353.87" font-family="'Roboto','Liberation Sans',sans-serif" font-size="5.3" font-weight="400" fill="#d0d0d0" textLength="31" lengthAdjust="spacingAndGlyphs">3.59274e+07</text><rect x="1277.6" y="369.83" width="4.2" height="1.2" fill="#e8e8e8"/><text x="1286.9" y="372.33" font-family="'Roboto','Liberation Sans',sans-serif" font-size="5.3" font-weight="400" fill="#d0d0d0" textLength="31" lengthAdjust="spacingAndGlyphs">2.87419e+07</text><rect x="1277.6" y="388.3" width="4.2" height="1.2" fill="#e8e8e8"/><text x="1286.9" y="390.8" font-family="'Roboto','Liberation Sans',sans-serif" font-size="5.3" font-weight="400" fill="#d0d0d0" textLength="31" lengthAdjust="spacingAndGlyphs">2.15564e+07</text><rect x="1277.6" y="406.77" width="4.2" height="1.2" fill="#e8e8e8"/><text x="1286.9" y="409.27" font-family="'Roboto','Liberation Sans',sans-serif" font-size="5.3" font-weight="400" fill="#d0d0d0" textLength="31" lengthAdjust="spacingAndGlyphs">1.43709e+07</text><rect x="1277.6" y="425.23" width="4.2" height="1.2" fill="#e8e8e8"/><text x="1286.9" y="427.73" font-family="'Roboto','Liberation Sans',sans-serif" font-size="5.3" font-weight="400" fill="#d0d0d0" textLength="31" lengthAdjust="spacingAndGlyphs">7.18547e+06</text><rect x="1277.6" y="443.7" width="4.2" height="1.2" fill="#e8e8e8"/><text x="1286.9" y="446.2" font-family="'Roboto','Liberation Sans',sans-serif" font-size="5.3" font-weight="400" fill="#d0d0d0" textLength="31" lengthAdjust="spacingAndGlyphs">0.00000e+00</text></g>
<g><rect x="1591" y="306" width="80" height="149" fill="#252525"/><g fill="#d0d0d0"><circle cx="1602.2" cy="317.2" r="2.94"/><rect x="1601.14" y="313.12" width="2.12" height="8.17" rx="0.41" transform="rotate(0 1602.2 317.2)"/><rect x="1601.14" y="313.12" width="2.12" height="8.17" rx="0.41" transform="rotate(60 1602.2 317.2)"/><rect x="1601.14" y="313.12" width="2.12" height="8.17" rx="0.41" transform="rotate(120 1602.2 317.2)"/></g><circle cx="1602.2" cy="317.2" r="1.23" fill="#1e1e1e"/><g fill="#d0d0d0"><rect x="1616.71" y="313.21" width="4.79" height="1.4"/><path d="M1617.98 314.49 L1620.22 314.49 L1620.78 317.6 L1617.42 317.6 Z"/><rect x="1615.83" y="317.4" width="6.54" height="1.52"/><rect x="1618.66" y="318.88" width="0.88" height="2.39"/></g><rect x="1631.13" y="313.65" width="5.85" height="7.52" rx="1.46" fill="#c4c4c4"/><rect x="1631.13" y="313.65" width="1.04" height="7.52" fill="#a8a8a8"/><ellipse cx="1637.4" cy="314.9" rx="2.09" ry="1.25" fill="#f02020"/><ellipse cx="1637.82" cy="318.66" rx="2.3" ry="1.25" fill="#3070f8"/><rect x="1596.2" y="327.2" width="71.1" height="9.5" fill="#252525" stroke="#343434" stroke-width="0.6"/><text x="1597.72" y="334.04" font-family="'Roboto','Liberation Sans',sans-serif" font-size="5.32" font-weight="400" fill="#d6d6d6" textLength="20.95" lengthAdjust="spacingAndGlyphs">Units: Pa</text><path d="M1661.7 331 h3.99 l-1.99 2.18 z" fill="#e8e8e8"/><defs><linearGradient id="cb4" x1="0" y1="1" x2="0" y2="0"><stop offset="0" stop-color="#30123b"/><stop offset="0.1" stop-color="#4458cb"/><stop offset="0.2" stop-color="#3e9bfe"/><stop offset="0.3" stop-color="#18d5cc"/><stop offset="0.4" stop-color="#46f783"/><stop offset="0.5" stop-color="#a4fc3b"/><stop offset="0.6" stop-color="#e1dc37"/><stop offset="0.7" stop-color="#fda330"/><stop offset="0.8" stop-color="#ef5a11"/><stop offset="0.9" stop-color="#c32402"/><stop offset="1" stop-color="#7a0402"/></linearGradient></defs><rect x="1609" y="344.6" width="10.7" height="105.1" fill="url(#cb4)"/><rect x="1620" y="344.03" width="3.99" height="1.14" fill="#e8e8e8"/><text x="1628.4" y="346.41" font-family="'Roboto','Liberation Sans',sans-serif" font-size="5.03" font-weight="400" fill="#d0d0d0" textLength="29.45" lengthAdjust="spacingAndGlyphs">3.73669e+07</text><rect x="1620" y="361.55" width="3.99" height="1.14" fill="#e8e8e8"/><text x="1628.4" y="363.92" font-family="'Roboto','Liberation Sans',sans-serif" font-size="5.03" font-weight="400" fill="#d0d0d0" textLength="29.45" lengthAdjust="spacingAndGlyphs">3.06572e+07</text><rect x="1620" y="379.06" width="3.99" height="1.14" fill="#e8e8e8"/><text x="1628.4" y="381.44" font-family="'Roboto','Liberation Sans',sans-serif" font-size="5.03" font-weight="400" fill="#d0d0d0" textLength="29.45" lengthAdjust="spacingAndGlyphs">2.39475e+07</text><rect x="1620" y="396.58" width="3.99" height="1.14" fill="#e8e8e8"/><text x="1628.4" y="398.95" font-family="'Roboto','Liberation Sans',sans-serif" font-size="5.03" font-weight="400" fill="#d0d0d0" textLength="29.45" lengthAdjust="spacingAndGlyphs">1.72378e+07</text><rect x="1620" y="414.1" width="3.99" height="1.14" fill="#e8e8e8"/><text x="1628.4" y="416.47" font-family="'Roboto','Liberation Sans',sans-serif" font-size="5.03" font-weight="400" fill="#d0d0d0" textLength="29.45" lengthAdjust="spacingAndGlyphs">1.05280e+07</text><rect x="1620" y="431.61" width="3.99" height="1.14" fill="#e8e8e8"/><text x="1628.4" y="433.99" font-family="'Roboto','Liberation Sans',sans-serif" font-size="5.03" font-weight="400" fill="#d0d0d0" textLength="29.45" lengthAdjust="spacingAndGlyphs">3.81830e+06</text><rect x="1620" y="449.13" width="3.99" height="1.14" fill="#e8e8e8"/><text x="1628.4" y="451.5" font-family="'Roboto','Liberation Sans',sans-serif" font-size="5.03" font-weight="400" fill="#d0d0d0" textLength="30.88" lengthAdjust="spacingAndGlyphs">-2.89143e+06</text></g>
<g><rect x="623.4" y="530.7" width="74.6" height="204.3" fill="#252525"/><rect x="623.4" y="522" width="74.6" height="8.7" fill="#323232"/><text x="624.98" y="528.35" font-family="'Roboto','Liberation Sans',sans-serif" font-size="5.46" font-weight="500" fill="#ececec" textLength="36" lengthAdjust="spacingAndGlyphs">Modal Result_13</text><path d="M693.34 525.47 h3.7 l-1.85 2.02 z" fill="#e8e8e8"/><text x="630" y="540.8" font-family="'Roboto','Liberation Sans',sans-serif" font-size="5.1" font-weight="400" fill="#c8c8c8" textLength="33" lengthAdjust="spacingAndGlyphs">Modal Analysis</text><text x="630" y="580" font-family="'Roboto','Liberation Sans',sans-serif" font-size="5.1" font-weight="400" fill="#c8c8c8" textLength="41" lengthAdjust="spacingAndGlyphs">Deformation Scale</text><rect x="629" y="547.5" width="64.6" height="9" fill="#252525" stroke="#343434" stroke-width="0.6"/><text x="630.41" y="553.98" font-family="'Roboto','Liberation Sans',sans-serif" font-size="4.93" font-weight="400" fill="#d6d6d6" textLength="28.03" lengthAdjust="spacingAndGlyphs">472.009020 Hz</text><path d="M688.41 551.12 h3.7 l-1.85 2.02 z" fill="#e8e8e8"/><rect x="629" y="561.2" width="64.6" height="9" fill="#252525" stroke="#343434" stroke-width="0.6"/><text x="630.41" y="567.68" font-family="'Roboto','Liberation Sans',sans-serif" font-size="4.93" font-weight="400" fill="#d6d6d6">Total</text><path d="M688.41 564.82 h3.7 l-1.85 2.02 z" fill="#e8e8e8"/><rect x="629" y="584.6" width="25.8" height="9" fill="#242424" stroke="#353535" stroke-width="0.6"/><text x="630.41" y="591.08" font-family="'Roboto','Liberation Sans',sans-serif" font-size="4.93" font-weight="400" fill="#d6d6d6" textLength="19.4" lengthAdjust="spacingAndGlyphs">0.063059:</text><line x1="657.1" y1="589.3" x2="690.2" y2="589.3" stroke="#0e2a5c" stroke-width="1.67" stroke-linecap="round"/><line x1="657.1" y1="589.3" x2="690.2" y2="589.3" stroke="#2d7ff9" stroke-width="1.67" stroke-linecap="round"/><circle cx="690.2" cy="589.3" r="2.55" fill="#2d7ff9"/><rect x="629" y="598.6" width="64.6" height="0.7" fill="#303030"/><g fill="#d0d0d0"><circle cx="634.1" cy="607.9" r="2.72"/><rect x="633.12" y="604.12" width="1.97" height="7.57" rx="0.38" transform="rotate(0 634.1 607.9)"/><rect x="633.12" y="604.12" width="1.97" height="7.57" rx="0.38" transform="rotate(60 634.1 607.9)"/><rect x="633.12" y="604.12" width="1.97" height="7.57" rx="0.38" transform="rotate(120 634.1 607.9)"/></g><circle cx="634.1" cy="607.9" r="1.14" fill="#1e1e1e"/><g fill="#d0d0d0"><rect x="646.98" y="604.2" width="4.44" height="1.29"/><path d="M648.17 605.39 L650.23 605.39 L650.75 608.27 L647.65 608.27 Z"/><rect x="646.17" y="608.08" width="6.06" height="1.4"/><rect x="648.79" y="609.45" width="0.81" height="2.22"/></g><rect x="660.72" y="604.61" width="5.42" height="6.97" rx="1.36" fill="#c4c4c4"/><rect x="660.72" y="604.61" width="0.97" height="6.97" fill="#a8a8a8"/><ellipse cx="666.53" cy="605.77" rx="1.94" ry="1.16" fill="#f02020"/><ellipse cx="666.92" cy="609.26" rx="2.13" ry="1.16" fill="#3070f8"/><rect x="629" y="617.3" width="64.6" height="9.4" fill="#252525" stroke="#343434" stroke-width="0.6"/><text x="630.41" y="624.07" font-family="'Roboto','Liberation Sans',sans-serif" font-size="4.93" font-weight="400" fill="#d6d6d6" textLength="19.4" lengthAdjust="spacingAndGlyphs">Units: mm</text><path d="M688.41 621.12 h3.7 l-1.85 2.02 z" fill="#e8e8e8"/><defs><linearGradient id="cb5" x1="0" y1="1" x2="0" y2="0"><stop offset="0" stop-color="#30123b"/><stop offset="0.1" stop-color="#4458cb"/><stop offset="0.2" stop-color="#3e9bfe"/><stop offset="0.3" stop-color="#18d5cc"/><stop offset="0.4" stop-color="#46f783"/><stop offset="0.5" stop-color="#a4fc3b"/><stop offset="0.6" stop-color="#e1dc37"/><stop offset="0.7" stop-color="#fda330"/><stop offset="0.8" stop-color="#ef5a11"/><stop offset="0.9" stop-color="#c32402"/><stop offset="1" stop-color="#7a0402"/></linearGradient></defs><rect x="639.7" y="633" width="10.6" height="96.2" fill="url(#cb5)"/><rect x="650.6" y="632.47" width="3.7" height="1.06" fill="#e8e8e8"/><text x="657.9" y="634.67" font-family="'Roboto','Liberation Sans',sans-serif" font-size="4.66" font-weight="400" fill="#d0d0d0" textLength="27.28" lengthAdjust="spacingAndGlyphs">1.00732e+03</text><rect x="650.6" y="648.51" width="3.7" height="1.06" fill="#e8e8e8"/><text x="657.9" y="650.71" font-family="'Roboto','Liberation Sans',sans-serif" font-size="4.66" font-weight="400" fill="#d0d0d0" textLength="27.28" lengthAdjust="spacingAndGlyphs">8.39432e+02</text><rect x="650.6" y="664.54" width="3.7" height="1.06" fill="#e8e8e8"/><text x="657.9" y="666.74" font-family="'Roboto','Liberation Sans',sans-serif" font-size="4.66" font-weight="400" fill="#d0d0d0" textLength="27.28" lengthAdjust="spacingAndGlyphs">6.71546e+02</text><rect x="650.6" y="680.57" width="3.7" height="1.06" fill="#e8e8e8"/><text x="657.9" y="682.77" font-family="'Roboto','Liberation Sans',sans-serif" font-size="4.66" font-weight="400" fill="#d0d0d0" textLength="27.28" lengthAdjust="spacingAndGlyphs">5.03659e+02</text><rect x="650.6" y="696.61" width="3.7" height="1.06" fill="#e8e8e8"/><text x="657.9" y="698.81" font-family="'Roboto','Liberation Sans',sans-serif" font-size="4.66" font-weight="400" fill="#d0d0d0" textLength="27.28" lengthAdjust="spacingAndGlyphs">3.35773e+02</text><rect x="650.6" y="712.64" width="3.7" height="1.06" fill="#e8e8e8"/><text x="657.9" y="714.84" font-family="'Roboto','Liberation Sans',sans-serif" font-size="4.66" font-weight="400" fill="#d0d0d0" textLength="27.28" lengthAdjust="spacingAndGlyphs">1.67886e+02</text><rect x="650.6" y="728.67" width="3.7" height="1.06" fill="#e8e8e8"/><text x="657.9" y="730.87" font-family="'Roboto','Liberation Sans',sans-serif" font-size="4.66" font-weight="400" fill="#d0d0d0" textLength="27.28" lengthAdjust="spacingAndGlyphs">0.00000e+00</text></g>
<g><rect x="1767.3" y="518.9" width="87.3" height="231.1" fill="#252525"/><rect x="1767.3" y="508.5" width="87.3" height="10.4" fill="#323232"/><text x="1769.14" y="516.09" font-family="'Roboto','Liberation Sans',sans-serif" font-size="6.32" font-weight="500" fill="#ececec" textLength="30" lengthAdjust="spacingAndGlyphs">Point List_8</text><path d="M1849.19 512.68 h4.28 l-2.14 2.35 z" fill="#e8e8e8"/><text x="1775" y="531" font-family="'Roboto','Liberation Sans',sans-serif" font-size="5.92" font-weight="400" fill="#c8c8c8" textLength="26.5" lengthAdjust="spacingAndGlyphs">Point Map</text><text x="1775" y="545" font-family="'Roboto','Liberation Sans',sans-serif" font-size="5.92" font-weight="400" fill="#c8c8c8" textLength="35" lengthAdjust="spacingAndGlyphs">Lower bound:</text><text x="1775" y="570.6" font-family="'Roboto','Liberation Sans',sans-serif" font-size="5.92" font-weight="400" fill="#c8c8c8" textLength="34" lengthAdjust="spacingAndGlyphs">Upper bound:</text><rect x="1774" y="549.9" width="29.8" height="10.3" fill="#242424" stroke="#353535" stroke-width="0.6"/><text x="1775.63" y="557.32" font-family="'Roboto','Liberation Sans',sans-serif" font-size="5.71" font-weight="400" fill="#d6d6d6" textLength="17.49" lengthAdjust="spacingAndGlyphs">6381.27</text><rect x="1774" y="576" width="29.8" height="10.6" fill="#242424" stroke="#353535" stroke-width="0.6"/><text x="1775.63" y="583.63" font-family="'Roboto','Liberation Sans',sans-serif" font-size="5.71" font-weight="400" fill="#d6d6d6" textLength="22.49" lengthAdjust="spacingAndGlyphs">9.59104e+</text><line x1="1808" y1="555.4" x2="1846.4" y2="555.4" stroke="#0e2a5c" stroke-width="1.94" stroke-linecap="round"/><circle cx="1808" cy="555.4" r="2.96" fill="#2d7ff9"/><line x1="1806.8" y1="581.3" x2="1845.2" y2="581.3" stroke="#0e2a5c" stroke-width="1.94" stroke-linecap="round"/><line x1="1806.8" y1="581.3" x2="1845.2" y2="581.3" stroke="#2d7ff9" stroke-width="1.94" stroke-linecap="round"/><circle cx="1845.2" cy="581.3" r="2.96" fill="#2d7ff9"/><rect x="1774" y="591.8" width="74.8" height="0.7" fill="#303030"/><g fill="#d0d0d0"><circle cx="1779.7" cy="603.4" r="3.16"/><rect x="1778.56" y="599.01" width="2.28" height="8.77" rx="0.44" transform="rotate(0 1779.7 603.4)"/><rect x="1778.56" y="599.01" width="2.28" height="8.77" rx="0.44" transform="rotate(60 1779.7 603.4)"/><rect x="1778.56" y="599.01" width="2.28" height="8.77" rx="0.44" transform="rotate(120 1779.7 603.4)"/></g><circle cx="1779.7" cy="603.4" r="1.32" fill="#1e1e1e"/><g fill="#d0d0d0"><rect x="1794.93" y="599.12" width="5.14" height="1.5"/><path d="M1796.3 600.49 L1798.7 600.49 L1799.3 603.83 L1795.7 603.83 Z"/><rect x="1793.99" y="603.61" width="7.03" height="1.63"/><rect x="1797.03" y="605.2" width="0.94" height="2.57"/></g><rect x="1811.14" y="599.59" width="6.28" height="8.08" rx="1.57" fill="#6e6e6e"/><rect x="1811.14" y="599.59" width="1.12" height="8.08" fill="#a8a8a8"/><ellipse cx="1817.87" cy="600.93" rx="2.24" ry="1.35" fill="#7a4a4a"/><ellipse cx="1818.32" cy="604.97" rx="2.47" ry="1.35" fill="#4a5a7a"/><rect x="1774" y="614.4" width="74.8" height="10.3" fill="#252525" stroke="#343434" stroke-width="0.6"/><text x="1775.63" y="621.82" font-family="'Roboto','Liberation Sans',sans-serif" font-size="5.71" font-weight="400" fill="#d6d6d6" textLength="22.49" lengthAdjust="spacingAndGlyphs">Units: Pa</text><path d="M1842.78 618.53 h4.28 l-2.14 2.35 z" fill="#e8e8e8"/><defs><linearGradient id="cb6" x1="0" y1="1" x2="0" y2="0"><stop offset="0" stop-color="#30123b"/><stop offset="0.1" stop-color="#4458cb"/><stop offset="0.2" stop-color="#3e9bfe"/><stop offset="0.3" stop-color="#18d5cc"/><stop offset="0.4" stop-color="#46f783"/><stop offset="0.5" stop-color="#a4fc3b"/><stop offset="0.6" stop-color="#e1dc37"/><stop offset="0.7" stop-color="#fda330"/><stop offset="0.8" stop-color="#ef5a11"/><stop offset="0.9" stop-color="#c32402"/><stop offset="1" stop-color="#7a0402"/></linearGradient></defs><rect x="1787.2" y="633.1" width="11" height="111.2" fill="url(#cb6)"/><rect x="1798.5" y="632.49" width="4.28" height="1.22" fill="#e8e8e8"/><text x="1807.8" y="635.04" font-family="'Roboto','Liberation Sans',sans-serif" font-size="5.41" font-weight="400" fill="#d0d0d0" textLength="31.62" lengthAdjust="spacingAndGlyphs">9.59104e+07</text><rect x="1798.5" y="651.02" width="4.28" height="1.22" fill="#e8e8e8"/><text x="1807.8" y="653.57" font-family="'Roboto','Liberation Sans',sans-serif" font-size="5.41" font-weight="400" fill="#d0d0d0" textLength="31.62" lengthAdjust="spacingAndGlyphs">7.99264e+07</text><rect x="1798.5" y="669.55" width="4.28" height="1.22" fill="#e8e8e8"/><text x="1807.8" y="672.1" font-family="'Roboto','Liberation Sans',sans-serif" font-size="5.41" font-weight="400" fill="#d0d0d0" textLength="31.62" lengthAdjust="spacingAndGlyphs">6.39424e+07</text><rect x="1798.5" y="688.09" width="4.28" height="1.22" fill="#e8e8e8"/><text x="1807.8" y="690.64" font-family="'Roboto','Liberation Sans',sans-serif" font-size="5.41" font-weight="400" fill="#d0d0d0" textLength="31.62" lengthAdjust="spacingAndGlyphs">4.79584e+07</text><rect x="1798.5" y="706.62" width="4.28" height="1.22" fill="#e8e8e8"/><text x="1807.8" y="709.17" font-family="'Roboto','Liberation Sans',sans-serif" font-size="5.41" font-weight="400" fill="#d0d0d0" textLength="31.62" lengthAdjust="spacingAndGlyphs">3.19744e+07</text><rect x="1798.5" y="725.15" width="4.28" height="1.22" fill="#e8e8e8"/><text x="1807.8" y="727.7" font-family="'Roboto','Liberation Sans',sans-serif" font-size="5.41" font-weight="400" fill="#d0d0d0" textLength="31.62" lengthAdjust="spacingAndGlyphs">1.59904e+07</text><rect x="1798.5" y="743.69" width="4.28" height="1.22" fill="#e8e8e8"/><text x="1807.8" y="746.24" font-family="'Roboto','Liberation Sans',sans-serif" font-size="5.41" font-weight="400" fill="#d0d0d0" textLength="31.62" lengthAdjust="spacingAndGlyphs">6.38127e+03</text></g>
<clipPath id="clp107"><rect x="470" y="775" width="81.2" height="255"/></clipPath><g clip-path="url(#clp107)"><g><rect x="476.1" y="789.8" width="83.9" height="228.2" fill="#252525"/><rect x="476.1" y="782.1" width="83.9" height="7.7" fill="#323232"/><text x="477.77" y="787.72" font-family="'Roboto','Liberation Sans',sans-serif" font-size="5.77" font-weight="500" fill="#ececec" textLength="65" lengthAdjust="spacingAndGlyphs">Static Structural Result_45</text><text x="483" y="801.2" font-family="'Roboto','Liberation Sans',sans-serif" font-size="5.39" font-weight="400" fill="#c8c8c8" textLength="36" lengthAdjust="spacingAndGlyphs">Static Analysis</text><text x="483" y="845.3" font-family="'Roboto','Liberation Sans',sans-serif" font-size="5.39" font-weight="400" fill="#c8c8c8" textLength="45" lengthAdjust="spacingAndGlyphs">Deformation Scale</text><rect x="482.2" y="809" width="71" height="9.5" fill="#252525" stroke="#343434" stroke-width="0.6"/><text x="483.69" y="815.84" font-family="'Roboto','Liberation Sans',sans-serif" font-size="5.21" font-weight="400" fill="#d6d6d6" textLength="27.34" lengthAdjust="spacingAndGlyphs">Displacement</text><path d="M547.71 812.82 h3.91 l-1.95 2.14 z" fill="#e8e8e8"/><rect x="482.2" y="824.3" width="71" height="9.4" fill="#252525" stroke="#343434" stroke-width="0.6"/><text x="483.69" y="831.07" font-family="'Roboto','Liberation Sans',sans-serif" font-size="5.21" font-weight="400" fill="#d6d6d6">Total</text><path d="M547.71 828.07 h3.91 l-1.95 2.14 z" fill="#e8e8e8"/><rect x="482.2" y="850.2" width="28.5" height="10.2" fill="#242424" stroke="#353535" stroke-width="0.6"/><text x="483.69" y="857.54" font-family="'Roboto','Liberation Sans',sans-serif" font-size="5.21" font-weight="400" fill="#d6d6d6">0</text><line x1="514.8" y1="855.3" x2="556" y2="855.3" stroke="#0e2a5c" stroke-width="1.77" stroke-linecap="round"/><circle cx="514.8" cy="855.3" r="2.7" fill="#2d7ff9"/><rect x="482.2" y="865.6" width="77.8" height="0.7" fill="#303030"/><g fill="#d0d0d0"><circle cx="488" cy="876.6" r="2.88"/><rect x="486.96" y="872.6" width="2.08" height="8" rx="0.4" transform="rotate(0 488 876.6)"/><rect x="486.96" y="872.6" width="2.08" height="8" rx="0.4" transform="rotate(60 488 876.6)"/><rect x="486.96" y="872.6" width="2.08" height="8" rx="0.4" transform="rotate(120 488 876.6)"/></g><circle cx="488" cy="876.6" r="1.2" fill="#1e1e1e"/><g fill="#d0d0d0"><rect x="502.66" y="872.69" width="4.69" height="1.37"/><path d="M503.91 873.94 L506.09 873.94 L506.64 876.99 L503.36 876.99 Z"/><rect x="501.8" y="876.8" width="6.41" height="1.48"/><rect x="504.57" y="878.24" width="0.86" height="2.34"/></g><rect x="517.81" y="873.12" width="5.73" height="7.37" rx="1.43" fill="#c4c4c4"/><rect x="517.81" y="873.12" width="1.02" height="7.37" fill="#a8a8a8"/><ellipse cx="523.95" cy="874.35" rx="2.05" ry="1.23" fill="#f02020"/><ellipse cx="524.36" cy="878.03" rx="2.25" ry="1.23" fill="#3070f8"/><rect x="482.2" y="886.7" width="71" height="9.9" fill="#252525" stroke="#343434" stroke-width="0.6"/><text x="483.69" y="893.83" font-family="'Roboto','Liberation Sans',sans-serif" font-size="5.21" font-weight="400" fill="#d6d6d6" textLength="20.51" lengthAdjust="spacingAndGlyphs">Units: mm</text><path d="M547.71 890.72 h3.91 l-1.95 2.14 z" fill="#e8e8e8"/><defs><linearGradient id="cb7" x1="0" y1="1" x2="0" y2="0"><stop offset="0" stop-color="#30123b"/><stop offset="0.1" stop-color="#4458cb"/><stop offset="0.2" stop-color="#3e9bfe"/><stop offset="0.3" stop-color="#18d5cc"/><stop offset="0.4" stop-color="#46f783"/><stop offset="0.5" stop-color="#a4fc3b"/><stop offset="0.6" stop-color="#e1dc37"/><stop offset="0.7" stop-color="#fda330"/><stop offset="0.8" stop-color="#ef5a11"/><stop offset="0.9" stop-color="#c32402"/><stop offset="1" stop-color="#7a0402"/></linearGradient></defs><rect x="494.7" y="904.8" width="10.9" height="106.7" fill="url(#cb7)"/><rect x="505.9" y="904.24" width="3.91" height="1.12" fill="#e8e8e8"/><text x="514.8" y="906.57" font-family="'Roboto','Liberation Sans',sans-serif" font-size="4.93" font-weight="400" fill="#d0d0d0" textLength="28.83" lengthAdjust="spacingAndGlyphs">6.52801e-01</text><rect x="505.9" y="922.03" width="3.91" height="1.12" fill="#e8e8e8"/><text x="514.8" y="924.35" font-family="'Roboto','Liberation Sans',sans-serif" font-size="4.93" font-weight="400" fill="#d0d0d0" textLength="28.83" lengthAdjust="spacingAndGlyphs">5.44001e-01</text><rect x="505.9" y="939.81" width="3.91" height="1.12" fill="#e8e8e8"/><text x="514.8" y="942.13" font-family="'Roboto','Liberation Sans',sans-serif" font-size="4.93" font-weight="400" fill="#d0d0d0" textLength="28.83" lengthAdjust="spacingAndGlyphs">4.35201e-01</text><rect x="505.9" y="957.59" width="3.91" height="1.12" fill="#e8e8e8"/><text x="514.8" y="959.92" font-family="'Roboto','Liberation Sans',sans-serif" font-size="4.93" font-weight="400" fill="#d0d0d0" textLength="28.83" lengthAdjust="spacingAndGlyphs">3.26401e-01</text><rect x="505.9" y="975.38" width="3.91" height="1.12" fill="#e8e8e8"/><text x="514.8" y="977.7" font-family="'Roboto','Liberation Sans',sans-serif" font-size="4.93" font-weight="400" fill="#d0d0d0" textLength="28.83" lengthAdjust="spacingAndGlyphs">2.17600e-01</text><rect x="505.9" y="993.16" width="3.91" height="1.12" fill="#e8e8e8"/><text x="514.8" y="995.48" font-family="'Roboto','Liberation Sans',sans-serif" font-size="4.93" font-weight="400" fill="#d0d0d0" textLength="28.83" lengthAdjust="spacingAndGlyphs">1.08800e-01</text><rect x="505.9" y="1010.94" width="3.91" height="1.12" fill="#e8e8e8"/><text x="514.8" y="1013.27" font-family="'Roboto','Liberation Sans',sans-serif" font-size="4.93" font-weight="400" fill="#d0d0d0" textLength="28.83" lengthAdjust="spacingAndGlyphs">0.00000e+00</text></g></g>
<g><rect x="840.5" y="791.1" width="77.6" height="240.9" fill="#252525"/><rect x="840.5" y="782.3" width="77.6" height="8.8" fill="#323232"/><text x="842.23" y="788.72" font-family="'Roboto','Liberation Sans',sans-serif" font-size="5.95" font-weight="500" fill="#ececec" textLength="65.5" lengthAdjust="spacingAndGlyphs">Static Structural Result_45</text><text x="847.2" y="802" font-family="'Roboto','Liberation Sans',sans-serif" font-size="5.57" font-weight="400" fill="#c8c8c8" textLength="36" lengthAdjust="spacingAndGlyphs">Static Analysis</text><text x="847.2" y="860.7" font-family="'Roboto','Liberation Sans',sans-serif" font-size="5.57" font-weight="400" fill="#c8c8c8" textLength="45" lengthAdjust="spacingAndGlyphs">Deformation Scale</text><rect x="846.6" y="809.7" width="71.5" height="10.1" fill="#252525" stroke="#343434" stroke-width="0.6"/><text x="848.14" y="816.97" font-family="'Roboto','Liberation Sans',sans-serif" font-size="5.38" font-weight="400" fill="#d6d6d6">Strain</text><path d="M912.44 813.79 h4.03 l-2.02 2.21 z" fill="#e8e8e8"/><rect x="846.6" y="824.9" width="71.5" height="10.1" fill="#252525" stroke="#343434" stroke-width="0.6"/><text x="848.14" y="832.17" font-family="'Roboto','Liberation Sans',sans-serif" font-size="5.38" font-weight="400" fill="#d6d6d6" textLength="21.17" lengthAdjust="spacingAndGlyphs">Principal</text><path d="M912.44 828.99 h4.03 l-2.02 2.21 z" fill="#e8e8e8"/><rect x="846.6" y="840.1" width="71.5" height="9.7" fill="#252525" stroke="#343434" stroke-width="0.6"/><text x="848.14" y="847.08" font-family="'Roboto','Liberation Sans',sans-serif" font-size="5.38" font-weight="400" fill="#d6d6d6">Max</text><path d="M912.44 843.99 h4.03 l-2.02 2.21 z" fill="#e8e8e8"/><rect x="846.6" y="866" width="28.5" height="10" fill="#242424" stroke="#353535" stroke-width="0.6"/><text x="848.14" y="873.2" font-family="'Roboto','Liberation Sans',sans-serif" font-size="5.38" font-weight="400" fill="#d6d6d6">0</text><line x1="878.8" y1="871.1" x2="915.3" y2="871.1" stroke="#0e2a5c" stroke-width="1.82" stroke-linecap="round"/><circle cx="878.8" cy="871.1" r="2.78" fill="#2d7ff9"/><rect x="846.6" y="881.1" width="71.5" height="0.7" fill="#303030"/><g fill="#d0d0d0"><circle cx="852.3" cy="892" r="2.97"/><rect x="851.23" y="887.87" width="2.15" height="8.26" rx="0.41" transform="rotate(0 852.3 892)"/><rect x="851.23" y="887.87" width="2.15" height="8.26" rx="0.41" transform="rotate(60 852.3 892)"/><rect x="851.23" y="887.87" width="2.15" height="8.26" rx="0.41" transform="rotate(120 852.3 892)"/></g><circle cx="852.3" cy="892" r="1.24" fill="#1e1e1e"/><g fill="#d0d0d0"><rect x="866.88" y="887.97" width="4.84" height="1.41"/><path d="M868.17 889.26 L870.43 889.26 L870.99 892.4 L867.61 892.4 Z"/><rect x="865.99" y="892.2" width="6.61" height="1.53"/><rect x="868.86" y="893.69" width="0.89" height="2.42"/></g><rect x="882.09" y="888.41" width="5.91" height="7.6" rx="1.48" fill="#c4c4c4"/><rect x="882.09" y="888.41" width="1.06" height="7.6" fill="#a8a8a8"/><ellipse cx="888.42" cy="889.68" rx="2.11" ry="1.27" fill="#f02020"/><ellipse cx="888.85" cy="893.48" rx="2.32" ry="1.27" fill="#3070f8"/><defs><linearGradient id="cb8" x1="0" y1="1" x2="0" y2="0"><stop offset="0" stop-color="#30123b"/><stop offset="0.1" stop-color="#4458cb"/><stop offset="0.2" stop-color="#3e9bfe"/><stop offset="0.3" stop-color="#18d5cc"/><stop offset="0.4" stop-color="#46f783"/><stop offset="0.5" stop-color="#a4fc3b"/><stop offset="0.6" stop-color="#e1dc37"/><stop offset="0.7" stop-color="#fda330"/><stop offset="0.8" stop-color="#ef5a11"/><stop offset="0.9" stop-color="#c32402"/><stop offset="1" stop-color="#7a0402"/></linearGradient></defs><rect x="859.6" y="904.9" width="10.4" height="121.1" fill="url(#cb8)"/><rect x="870.3" y="904.32" width="4.03" height="1.15" fill="#e8e8e8"/><text x="879.2" y="906.72" font-family="'Roboto','Liberation Sans',sans-serif" font-size="5.09" font-weight="400" fill="#d0d0d0" textLength="29.76" lengthAdjust="spacingAndGlyphs">3.18777e-03</text><rect x="870.3" y="924.51" width="4.03" height="1.15" fill="#e8e8e8"/><text x="879.2" y="926.91" font-family="'Roboto','Liberation Sans',sans-serif" font-size="5.09" font-weight="400" fill="#d0d0d0" textLength="29.76" lengthAdjust="spacingAndGlyphs">2.65648e-03</text><rect x="870.3" y="944.69" width="4.03" height="1.15" fill="#e8e8e8"/><text x="879.2" y="947.09" font-family="'Roboto','Liberation Sans',sans-serif" font-size="5.09" font-weight="400" fill="#d0d0d0" textLength="29.76" lengthAdjust="spacingAndGlyphs">2.12518e-03</text><rect x="870.3" y="964.87" width="4.03" height="1.15" fill="#e8e8e8"/><text x="879.2" y="967.27" font-family="'Roboto','Liberation Sans',sans-serif" font-size="5.09" font-weight="400" fill="#d0d0d0" textLength="29.76" lengthAdjust="spacingAndGlyphs">1.59389e-03</text><rect x="870.3" y="985.06" width="4.03" height="1.15" fill="#e8e8e8"/><text x="879.2" y="987.46" font-family="'Roboto','Liberation Sans',sans-serif" font-size="5.09" font-weight="400" fill="#d0d0d0" textLength="29.76" lengthAdjust="spacingAndGlyphs">1.06259e-03</text><rect x="870.3" y="1005.24" width="4.03" height="1.15" fill="#e8e8e8"/><text x="879.2" y="1007.64" font-family="'Roboto','Liberation Sans',sans-serif" font-size="5.09" font-weight="400" fill="#d0d0d0" textLength="29.76" lengthAdjust="spacingAndGlyphs">5.31295e-04</text><rect x="870.3" y="1025.42" width="4.03" height="1.15" fill="#e8e8e8"/><text x="879.2" y="1027.82" font-family="'Roboto','Liberation Sans',sans-serif" font-size="5.09" font-weight="400" fill="#d0d0d0" textLength="29.76" lengthAdjust="spacingAndGlyphs">0.00000e+00</text></g>
<g><rect x="1260.5" y="802.6" width="79.4" height="221.4" fill="#252525"/><rect x="1260.5" y="793.3" width="79.4" height="9.3" fill="#323232"/><text x="1262.19" y="800.09" font-family="'Roboto','Liberation Sans',sans-serif" font-size="5.83" font-weight="500" fill="#ececec" textLength="64" lengthAdjust="spacingAndGlyphs">Static Structural Result_45</text><path d="M1334.92 797.01 h3.95 l-1.97 2.16 z" fill="#e8e8e8"/><text x="1267" y="813.2" font-family="'Roboto','Liberation Sans',sans-serif" font-size="5.45" font-weight="400" fill="#c8c8c8" textLength="35.5" lengthAdjust="spacingAndGlyphs">Static Analysis</text><text x="1267" y="856.2" font-family="'Roboto','Liberation Sans',sans-serif" font-size="5.45" font-weight="400" fill="#c8c8c8" textLength="44.5" lengthAdjust="spacingAndGlyphs">Deformation Scale</text><rect x="1266.2" y="820.5" width="70" height="10.1" fill="#252525" stroke="#343434" stroke-width="0.6"/><text x="1267.7" y="827.77" font-family="'Roboto','Liberation Sans',sans-serif" font-size="5.26" font-weight="400" fill="#d6d6d6">Stress</text><path d="M1330.65 824.61 h3.95 l-1.97 2.16 z" fill="#e8e8e8"/><rect x="1266.2" y="835.5" width="70" height="9.9" fill="#252525" stroke="#343434" stroke-width="0.6"/><text x="1267.7" y="842.63" font-family="'Roboto','Liberation Sans',sans-serif" font-size="5.26" font-weight="400" fill="#d6d6d6" textLength="20.73" lengthAdjust="spacingAndGlyphs">Von Mises</text><path d="M1330.65 839.51 h3.95 l-1.97 2.16 z" fill="#e8e8e8"/><rect x="1266.2" y="861.4" width="28.3" height="9.3" fill="#242424" stroke="#353535" stroke-width="0.6"/><text x="1267.7" y="868.1" font-family="'Roboto','Liberation Sans',sans-serif" font-size="5.26" font-weight="400" fill="#d6d6d6">0</text><line x1="1298.2" y1="866.2" x2="1333.8" y2="866.2" stroke="#0e2a5c" stroke-width="1.79" stroke-linecap="round"/><circle cx="1298.2" cy="866.2" r="2.73" fill="#2d7ff9"/><rect x="1266.2" y="876.5" width="70" height="0.7" fill="#303030"/><g fill="#d0d0d0"><circle cx="1272" cy="886.9" r="2.91"/><rect x="1270.95" y="882.86" width="2.1" height="8.08" rx="0.4" transform="rotate(0 1272 886.9)"/><rect x="1270.95" y="882.86" width="2.1" height="8.08" rx="0.4" transform="rotate(60 1272 886.9)"/><rect x="1270.95" y="882.86" width="2.1" height="8.08" rx="0.4" transform="rotate(120 1272 886.9)"/></g><circle cx="1272" cy="886.9" r="1.21" fill="#1e1e1e"/><g fill="#d0d0d0"><rect x="1286.33" y="882.95" width="4.74" height="1.38"/><path d="M1287.59 884.22 L1289.81 884.22 L1290.36 887.29 L1287.04 887.29 Z"/><rect x="1285.46" y="887.1" width="6.47" height="1.5"/><rect x="1288.27" y="888.56" width="0.87" height="2.37"/></g><rect x="1300.97" y="883.38" width="5.79" height="7.44" rx="1.45" fill="#c4c4c4"/><rect x="1300.97" y="883.38" width="1.03" height="7.44" fill="#a8a8a8"/><ellipse cx="1307.17" cy="884.63" rx="2.07" ry="1.24" fill="#f02020"/><ellipse cx="1307.59" cy="888.35" rx="2.27" ry="1.24" fill="#3070f8"/><rect x="1266.2" y="896.7" width="70" height="9.7" fill="#252525" stroke="#343434" stroke-width="0.6"/><text x="1267.7" y="903.68" font-family="'Roboto','Liberation Sans',sans-serif" font-size="5.26" font-weight="400" fill="#d6d6d6" textLength="20.73" lengthAdjust="spacingAndGlyphs">Units: Pa</text><path d="M1330.65 900.61 h3.95 l-1.97 2.16 z" fill="#e8e8e8"/><defs><linearGradient id="cb9" x1="0" y1="1" x2="0" y2="0"><stop offset="0" stop-color="#30123b"/><stop offset="0.1" stop-color="#4458cb"/><stop offset="0.2" stop-color="#3e9bfe"/><stop offset="0.3" stop-color="#18d5cc"/><stop offset="0.4" stop-color="#46f783"/><stop offset="0.5" stop-color="#a4fc3b"/><stop offset="0.6" stop-color="#e1dc37"/><stop offset="0.7" stop-color="#fda330"/><stop offset="0.8" stop-color="#ef5a11"/><stop offset="0.9" stop-color="#c32402"/><stop offset="1" stop-color="#7a0402"/></linearGradient></defs><rect x="1279.2" y="914.3" width="10" height="104.1" fill="url(#cb9)"/><rect x="1289.5" y="913.74" width="3.95" height="1.13" fill="#e8e8e8"/><text x="1297.8" y="916.09" font-family="'Roboto','Liberation Sans',sans-serif" font-size="4.98" font-weight="400" fill="#d0d0d0" textLength="29.14" lengthAdjust="spacingAndGlyphs">4.97739e+08</text><rect x="1289.5" y="931.09" width="3.95" height="1.13" fill="#e8e8e8"/><text x="1297.8" y="933.44" font-family="'Roboto','Liberation Sans',sans-serif" font-size="4.98" font-weight="400" fill="#d0d0d0" textLength="29.14" lengthAdjust="spacingAndGlyphs">4.14782e+08</text><rect x="1289.5" y="948.44" width="3.95" height="1.13" fill="#e8e8e8"/><text x="1297.8" y="950.79" font-family="'Roboto','Liberation Sans',sans-serif" font-size="4.98" font-weight="400" fill="#d0d0d0" textLength="29.14" lengthAdjust="spacingAndGlyphs">3.31826e+08</text><rect x="1289.5" y="965.79" width="3.95" height="1.13" fill="#e8e8e8"/><text x="1297.8" y="968.14" font-family="'Roboto','Liberation Sans',sans-serif" font-size="4.98" font-weight="400" fill="#d0d0d0" textLength="29.14" lengthAdjust="spacingAndGlyphs">2.48869e+08</text><rect x="1289.5" y="983.14" width="3.95" height="1.13" fill="#e8e8e8"/><text x="1297.8" y="985.49" font-family="'Roboto','Liberation Sans',sans-serif" font-size="4.98" font-weight="400" fill="#d0d0d0" textLength="29.14" lengthAdjust="spacingAndGlyphs">1.65913e+08</text><rect x="1289.5" y="1000.49" width="3.95" height="1.13" fill="#e8e8e8"/><text x="1297.8" y="1002.84" font-family="'Roboto','Liberation Sans',sans-serif" font-size="4.98" font-weight="400" fill="#d0d0d0" textLength="29.14" lengthAdjust="spacingAndGlyphs">8.29565e+07</text><rect x="1289.5" y="1017.84" width="3.95" height="1.13" fill="#e8e8e8"/><text x="1297.8" y="1020.19" font-family="'Roboto','Liberation Sans',sans-serif" font-size="4.98" font-weight="400" fill="#d0d0d0" textLength="29.14" lengthAdjust="spacingAndGlyphs">0.00000e+00</text></g>
<g><rect x="1686.1" y="798.8" width="80" height="238.2" fill="#252525"/><rect x="1686.1" y="789.1" width="80" height="9.7" fill="#323232"/><text x="1687.79" y="796.18" font-family="'Roboto','Liberation Sans',sans-serif" font-size="5.83" font-weight="500" fill="#ececec" textLength="64.5" lengthAdjust="spacingAndGlyphs">Static Structural Result_43</text><path d="M1761.12 793.01 h3.95 l-1.97 2.16 z" fill="#e8e8e8"/><text x="1693" y="809.8" font-family="'Roboto','Liberation Sans',sans-serif" font-size="5.45" font-weight="400" fill="#c8c8c8" textLength="35.5" lengthAdjust="spacingAndGlyphs">Static Analysis</text><text x="1693" y="867.8" font-family="'Roboto','Liberation Sans',sans-serif" font-size="5.45" font-weight="400" fill="#c8c8c8" textLength="45" lengthAdjust="spacingAndGlyphs">Deformation Scale</text><rect x="1692.2" y="817.7" width="70.5" height="9.7" fill="#252525" stroke="#343434" stroke-width="0.6"/><text x="1693.7" y="824.68" font-family="'Roboto','Liberation Sans',sans-serif" font-size="5.26" font-weight="400" fill="#d6d6d6">Stress</text><path d="M1757.15 821.61 h3.95 l-1.97 2.16 z" fill="#e8e8e8"/><rect x="1692.2" y="832.3" width="70.5" height="9.7" fill="#252525" stroke="#343434" stroke-width="0.6"/><text x="1693.7" y="839.28" font-family="'Roboto','Liberation Sans',sans-serif" font-size="5.26" font-weight="400" fill="#d6d6d6" textLength="20.73" lengthAdjust="spacingAndGlyphs">Principal</text><path d="M1757.15 836.21 h3.95 l-1.97 2.16 z" fill="#e8e8e8"/><rect x="1692.2" y="847.5" width="70.5" height="9.3" fill="#252525" stroke="#343434" stroke-width="0.6"/><text x="1693.7" y="854.2" font-family="'Roboto','Liberation Sans',sans-serif" font-size="5.26" font-weight="400" fill="#d6d6d6">Max</text><path d="M1757.15 851.21 h3.95 l-1.97 2.16 z" fill="#e8e8e8"/><rect x="1692.2" y="873" width="27.9" height="9.7" fill="#242424" stroke="#353535" stroke-width="0.6"/><text x="1693.7" y="879.98" font-family="'Roboto','Liberation Sans',sans-serif" font-size="5.26" font-weight="400" fill="#d6d6d6">0</text><line x1="1724" y1="877.6" x2="1760.3" y2="877.6" stroke="#0e2a5c" stroke-width="1.79" stroke-linecap="round"/><circle cx="1724" cy="877.6" r="2.73" fill="#2d7ff9"/><rect x="1692.2" y="887.6" width="70.5" height="0.7" fill="#303030"/><g fill="#d0d0d0"><circle cx="1697.6" cy="898.5" r="2.91"/><rect x="1696.55" y="894.46" width="2.1" height="8.08" rx="0.4" transform="rotate(0 1697.6 898.5)"/><rect x="1696.55" y="894.46" width="2.1" height="8.08" rx="0.4" transform="rotate(60 1697.6 898.5)"/><rect x="1696.55" y="894.46" width="2.1" height="8.08" rx="0.4" transform="rotate(120 1697.6 898.5)"/></g><circle cx="1697.6" cy="898.5" r="1.21" fill="#1e1e1e"/><g fill="#d0d0d0"><rect x="1711.93" y="894.55" width="4.74" height="1.38"/><path d="M1713.19 895.82 L1715.41 895.82 L1715.96 898.89 L1712.64 898.89 Z"/><rect x="1711.06" y="898.7" width="6.47" height="1.5"/><rect x="1713.87" y="900.16" width="0.87" height="2.37"/></g><rect x="1726.87" y="894.98" width="5.79" height="7.44" rx="1.45" fill="#c4c4c4"/><rect x="1726.87" y="894.98" width="1.03" height="7.44" fill="#a8a8a8"/><ellipse cx="1733.07" cy="896.23" rx="2.07" ry="1.24" fill="#f02020"/><ellipse cx="1733.49" cy="899.95" rx="2.27" ry="1.24" fill="#3070f8"/><rect x="1692.2" y="908.3" width="70.5" height="9.7" fill="#252525" stroke="#343434" stroke-width="0.6"/><text x="1693.7" y="915.28" font-family="'Roboto','Liberation Sans',sans-serif" font-size="5.26" font-weight="400" fill="#d6d6d6" textLength="20.73" lengthAdjust="spacingAndGlyphs">Units: Pa</text><path d="M1757.15 912.21 h3.95 l-1.97 2.16 z" fill="#e8e8e8"/><defs><linearGradient id="cb10" x1="0" y1="1" x2="0" y2="0"><stop offset="0" stop-color="#30123b"/><stop offset="0.1" stop-color="#4458cb"/><stop offset="0.2" stop-color="#3e9bfe"/><stop offset="0.3" stop-color="#18d5cc"/><stop offset="0.4" stop-color="#46f783"/><stop offset="0.5" stop-color="#a4fc3b"/><stop offset="0.6" stop-color="#e1dc37"/><stop offset="0.7" stop-color="#fda330"/><stop offset="0.8" stop-color="#ef5a11"/><stop offset="0.9" stop-color="#c32402"/><stop offset="1" stop-color="#7a0402"/></linearGradient></defs><rect x="1704.6" y="926.2" width="10" height="104.6" fill="url(#cb10)"/><rect x="1714.9" y="925.64" width="3.95" height="1.13" fill="#e8e8e8"/><text x="1724" y="927.99" font-family="'Roboto','Liberation Sans',sans-serif" font-size="4.98" font-weight="400" fill="#d0d0d0" textLength="29.14" lengthAdjust="spacingAndGlyphs">4.44701e+07</text><rect x="1714.9" y="943.07" width="3.95" height="1.13" fill="#e8e8e8"/><text x="1724" y="945.42" font-family="'Roboto','Liberation Sans',sans-serif" font-size="4.98" font-weight="400" fill="#d0d0d0" textLength="29.14" lengthAdjust="spacingAndGlyphs">3.65187e+07</text><rect x="1714.9" y="960.5" width="3.95" height="1.13" fill="#e8e8e8"/><text x="1724" y="962.85" font-family="'Roboto','Liberation Sans',sans-serif" font-size="4.98" font-weight="400" fill="#d0d0d0" textLength="29.14" lengthAdjust="spacingAndGlyphs">2.85673e+07</text><rect x="1714.9" y="977.94" width="3.95" height="1.13" fill="#e8e8e8"/><text x="1724" y="980.29" font-family="'Roboto','Liberation Sans',sans-serif" font-size="4.98" font-weight="400" fill="#d0d0d0" textLength="29.14" lengthAdjust="spacingAndGlyphs">2.06159e+07</text><rect x="1714.9" y="995.37" width="3.95" height="1.13" fill="#e8e8e8"/><text x="1724" y="997.72" font-family="'Roboto','Liberation Sans',sans-serif" font-size="4.98" font-weight="400" fill="#d0d0d0" textLength="29.14" lengthAdjust="spacingAndGlyphs">1.26645e+07</text><rect x="1714.9" y="1012.8" width="3.95" height="1.13" fill="#e8e8e8"/><text x="1724" y="1015.15" font-family="'Roboto','Liberation Sans',sans-serif" font-size="4.98" font-weight="400" fill="#d0d0d0" textLength="29.14" lengthAdjust="spacingAndGlyphs">4.71315e+06</text><rect x="1714.9" y="1030.24" width="3.95" height="1.13" fill="#e8e8e8"/><text x="1724" y="1032.59" font-family="'Roboto','Liberation Sans',sans-serif" font-size="4.98" font-weight="400" fill="#d0d0d0" textLength="30.55" lengthAdjust="spacingAndGlyphs">-3.23823e+06</text></g>
<text x="199.5" y="483.7" font-family="'Agdasima','Liberation Sans Narrow','Liberation Sans',sans-serif" font-weight="700" font-size="22.14" fill="#fff" textLength="213.5" lengthAdjust="spacingAndGlyphs">Static analysis - Displacement</text>
<text x="634.6" y="480.7" font-family="'Agdasima','Liberation Sans Narrow','Liberation Sans',sans-serif" font-weight="700" font-size="21.71" fill="#fff" textLength="162.1" lengthAdjust="spacingAndGlyphs">Static analysis - Strain</text>
<text x="994.8" y="479" font-family="'Agdasima','Liberation Sans Narrow','Liberation Sans',sans-serif" font-weight="700" font-size="21.43" fill="#fff" textLength="243.1" lengthAdjust="spacingAndGlyphs">Static analysis – Stress (V. Mises)</text>
<text x="1393.8" y="478.6" font-family="'Agdasima','Liberation Sans Narrow','Liberation Sans',sans-serif" font-weight="700" font-size="22" fill="#fff" textLength="215.6" lengthAdjust="spacingAndGlyphs">Static analysis – Stress (Ppal)</text>
<text x="509.1" y="750.4" font-family="'Agdasima','Liberation Sans Narrow','Liberation Sans',sans-serif" font-weight="700" font-size="23.14" fill="#fff" textLength="101.5" lengthAdjust="spacingAndGlyphs">Modal analysis</text>
<text x="1528.3" y="764" font-family="'Agdasima','Liberation Sans Narrow','Liberation Sans',sans-serif" font-weight="700" font-size="22.43" fill="#fff" textLength="245.3" lengthAdjust="spacingAndGlyphs">Thermal stress– Stress (V. Mises)</text>
<text x="1582.5" y="785.9" font-family="'Agdasima','Liberation Sans Narrow','Liberation Sans',sans-serif" font-weight="700" font-size="19.57" fill="#fff" textLength="137.8" lengthAdjust="spacingAndGlyphs">Without region fixation</text>
<text x="218" y="1051.2" font-family="'Agdasima','Liberation Sans Narrow','Liberation Sans',sans-serif" font-weight="700" font-size="22.71" fill="#fff" textLength="215.7" lengthAdjust="spacingAndGlyphs">Thermal stress- Displacement</text>
<text x="673.5" y="1049.2" font-family="'Agdasima','Liberation Sans Narrow','Liberation Sans',sans-serif" font-weight="700" font-size="23.14" fill="#fff" textLength="162.9" lengthAdjust="spacingAndGlyphs">Thermal stress- Strain</text>
<text x="1032.4" y="1046.2" font-family="'Agdasima','Liberation Sans Narrow','Liberation Sans',sans-serif" font-weight="700" font-size="22" fill="#fff" textLength="244.6" lengthAdjust="spacingAndGlyphs">Thermal stress– Stress (V. Mises)</text>
<text x="1487.6" y="1044.9" font-family="'Agdasima','Liberation Sans Narrow','Liberation Sans',sans-serif" font-weight="700" font-size="21.29" fill="#fff" textLength="215.6" lengthAdjust="spacingAndGlyphs">Static analysis – Stress (Ppal)</text>
</svg></body></html>
